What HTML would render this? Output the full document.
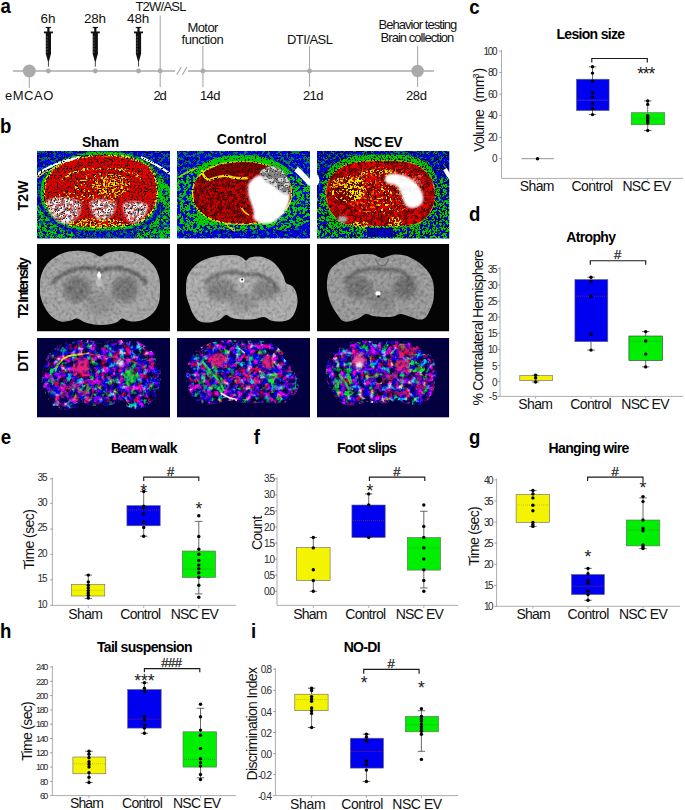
<!DOCTYPE html>
<html><head><meta charset="utf-8"><title>figure</title>
<style>
html,body{margin:0;padding:0;background:#fff;}
svg{display:block;font-family:"Liberation Sans", sans-serif;}
text{font-family:"Liberation Sans", sans-serif;}
</style></head><body>
<svg width="685" height="810" viewBox="0 0 685 810">
<rect width="685" height="810" fill="#fff"/>
<text transform="translate(0.46 12.8) scale(0.93 1)" font-size="20" font-weight="bold" fill="#000">a</text>
<line x1="13" y1="71" x2="434" y2="71" stroke="#aaaaaa" stroke-width="1.3" />
<line x1="29.3" y1="71" x2="29.3" y2="88" stroke="#aaaaaa" stroke-width="1.1" />
<line x1="160.2" y1="15.5" x2="160.2" y2="87" stroke="#aaaaaa" stroke-width="1.1" />
<line x1="202.9" y1="46" x2="202.9" y2="87" stroke="#aaaaaa" stroke-width="1.1" />
<line x1="309.5" y1="46" x2="309.5" y2="87" stroke="#aaaaaa" stroke-width="1.1" />
<line x1="417.6" y1="46" x2="417.6" y2="87" stroke="#aaaaaa" stroke-width="1.1" />
<circle cx="29.3" cy="71" r="6.5" fill="#aaaaaa"/>
<circle cx="417.6" cy="71" r="6.2" fill="#aaaaaa"/>
<circle cx="48.4" cy="71" r="2.4" fill="#aaaaaa"/>
<circle cx="95.3" cy="71" r="2.4" fill="#aaaaaa"/>
<circle cx="138.5" cy="71" r="2.4" fill="#aaaaaa"/>
<circle cx="160.2" cy="71" r="2.4" fill="#aaaaaa"/>
<circle cx="202.9" cy="71" r="2.4" fill="#aaaaaa"/>
<circle cx="309.5" cy="71" r="2.4" fill="#aaaaaa"/>
<rect x="175" y="69" width="13" height="4" fill="#fff"/>
<line x1="176.8" y1="74.6" x2="181.4" y2="67" stroke="#aaaaaa" stroke-width="1.1" />
<line x1="182.4" y1="74.6" x2="187" y2="67" stroke="#aaaaaa" stroke-width="1.1" />
<g transform="translate(48.4 0)"><rect x="-2.7" y="26.9" width="5.4" height="1.2" fill="#111"/><rect x="-1.1" y="27.2" width="2.2" height="5" fill="#111"/><rect x="-4.5" y="31.5" width="9" height="1.8" fill="#111"/><rect x="-2.6" y="33" width="5.2" height="21" fill="#111"/><path d="M-2.6 53.8L-0.45 61.5H0.45L2.6 53.8Z" fill="#111"/><rect x="-0.45" y="61" width="0.9" height="5.6" fill="#333"/><path d="M-2 37h1.4M-2 40h1.4M-2 43h1.4M-2 46h1.4M-2 49h1.4M-2 52h1.4" stroke="#bbb" stroke-width="0.5"/></g>
<g transform="translate(95.3 0)"><rect x="-2.7" y="26.9" width="5.4" height="1.2" fill="#111"/><rect x="-1.1" y="27.2" width="2.2" height="5" fill="#111"/><rect x="-4.5" y="31.5" width="9" height="1.8" fill="#111"/><rect x="-2.6" y="33" width="5.2" height="21" fill="#111"/><path d="M-2.6 53.8L-0.45 61.5H0.45L2.6 53.8Z" fill="#111"/><rect x="-0.45" y="61" width="0.9" height="5.6" fill="#333"/><path d="M-2 37h1.4M-2 40h1.4M-2 43h1.4M-2 46h1.4M-2 49h1.4M-2 52h1.4" stroke="#bbb" stroke-width="0.5"/></g>
<g transform="translate(138.5 0)"><rect x="-2.7" y="26.9" width="5.4" height="1.2" fill="#111"/><rect x="-1.1" y="27.2" width="2.2" height="5" fill="#111"/><rect x="-4.5" y="31.5" width="9" height="1.8" fill="#111"/><rect x="-2.6" y="33" width="5.2" height="21" fill="#111"/><path d="M-2.6 53.8L-0.45 61.5H0.45L2.6 53.8Z" fill="#111"/><rect x="-0.45" y="61" width="0.9" height="5.6" fill="#333"/><path d="M-2 37h1.4M-2 40h1.4M-2 43h1.4M-2 46h1.4M-2 49h1.4M-2 52h1.4" stroke="#bbb" stroke-width="0.5"/></g>
<text x="48" y="23.1" font-size="13.5" text-anchor="middle" fill="#111" textLength="14.8" lengthAdjust="spacing" >6h</text>
<text x="95" y="23.1" font-size="13.5" text-anchor="middle" fill="#111" textLength="22.2" lengthAdjust="spacing" >28h</text>
<text x="138.2" y="23.1" font-size="13.5" text-anchor="middle" fill="#111" textLength="22.2" lengthAdjust="spacing" >48h</text>
<text x="135.4" y="11.2" font-size="13" text-anchor="start" fill="#111" textLength="51" lengthAdjust="spacing" >T2W/ASL</text>
<text x="202.9" y="32.3" font-size="13" text-anchor="middle" fill="#111" textLength="31" lengthAdjust="spacing" >Motor</text>
<text x="202.6" y="44.2" font-size="13" text-anchor="middle" fill="#111" textLength="42.2" lengthAdjust="spacing" >function</text>
<text x="287" y="44.2" font-size="13" text-anchor="start" fill="#111" textLength="46" lengthAdjust="spacing" >DTI/ASL</text>
<text x="378.6" y="29.3" font-size="13" text-anchor="start" fill="#111" textLength="78.7" lengthAdjust="spacing" >Behavior testing</text>
<text x="380.6" y="42.2" font-size="13" text-anchor="start" fill="#111" textLength="73.7" lengthAdjust="spacing" >Brain collection</text>
<text x="5" y="99.7" font-size="13" text-anchor="start" fill="#111" textLength="48.3" lengthAdjust="spacing" >eMCAO</text>
<text x="153.5" y="99.7" font-size="13" text-anchor="start" fill="#111" textLength="13.2" lengthAdjust="spacing" >2d</text>
<text x="199.9" y="99.7" font-size="13" text-anchor="start" fill="#111" textLength="20.6" lengthAdjust="spacing" >14d</text>
<text x="303" y="99.7" font-size="13" text-anchor="start" fill="#111" textLength="20.4" lengthAdjust="spacing" >21d</text>
<text x="405.9" y="99.7" font-size="13" text-anchor="start" fill="#111" textLength="21" lengthAdjust="spacing" >28d</text>
<text transform="translate(-0.0 133.2) scale(0.93 1)" font-size="20" font-weight="bold" fill="#000">b</text>
<text x="81.9" y="146.9" font-size="14" text-anchor="start" fill="#000" font-weight="bold" textLength="37.4" lengthAdjust="spacing" >Sham</text>
<text x="216.8" y="144.4" font-size="14" text-anchor="start" fill="#000" font-weight="bold" textLength="49.8" lengthAdjust="spacing" >Control</text>
<text x="354.2" y="146.7" font-size="14" text-anchor="start" fill="#000" font-weight="bold" textLength="48.3" lengthAdjust="spacing" >NSC EV</text>
<text x="28.1" y="210.6" font-size="14" text-anchor="start" fill="#000" font-weight="bold" textLength="30" lengthAdjust="spacing" transform="rotate(-90 28.1 210.6)" >T2W</text>
<text x="28.1" y="318.3" font-size="14" text-anchor="start" fill="#000" font-weight="bold" textLength="61" lengthAdjust="spacing" transform="rotate(-90 28.1 318.3)" >T2 Intensity</text>
<text x="28.1" y="371.7" font-size="14" text-anchor="start" fill="#000" font-weight="bold" textLength="21.7" lengthAdjust="spacing" transform="rotate(-90 28.1 371.7)" >DTI</text>
<defs>
<filter id="w0k" x="0" y="0" width="1" height="1" color-interpolation-filters="sRGB"><feTurbulence type="fractalNoise" baseFrequency="0.7" numOctaves="1" seed="1"/><feColorMatrix type="matrix" values="0 0 0 0 0.0 0 0 0 0 0.0 0 0 0 0 0.0 22 0 0 0 -12.76"/><feComposite in2="SourceAlpha" operator="in"/></filter>
<filter id="w0k2" x="0" y="0" width="1" height="1" color-interpolation-filters="sRGB"><feTurbulence type="fractalNoise" baseFrequency="0.7" numOctaves="1" seed="2"/><feColorMatrix type="matrix" values="0 0 0 0 0.0 0 0 0 0 0.0 0 0 0 0 0.0 22 0 0 0 -13.2"/><feComposite in2="SourceAlpha" operator="in"/></filter>
<filter id="w0y" x="0" y="0" width="1" height="1" color-interpolation-filters="sRGB"><feTurbulence type="fractalNoise" baseFrequency="0.45" numOctaves="1" seed="3"/><feColorMatrix type="matrix" values="0 0 0 0 0.922 0 0 0 0 0.922 0 0 0 0 0.0 28 0 0 0 -16.38"/><feComposite in2="SourceAlpha" operator="in"/></filter>
<filter id="w0y2" x="0" y="0" width="1" height="1" color-interpolation-filters="sRGB"><feTurbulence type="fractalNoise" baseFrequency="0.45" numOctaves="1" seed="4"/><feColorMatrix type="matrix" values="0 0 0 0 0.922 0 0 0 0 0.922 0 0 0 0 0.0 28 0 0 0 -14.0"/><feComposite in2="SourceAlpha" operator="in"/></filter>
<filter id="w0g" x="0" y="0" width="1" height="1" color-interpolation-filters="sRGB"><feTurbulence type="fractalNoise" baseFrequency="0.3" numOctaves="2" seed="5"/><feColorMatrix type="matrix" values="0 0 0 0 0.0 0 0 0 0 0.804 0 0 0 0 0.0 28 0 0 0 -14.56"/><feComposite in2="SourceAlpha" operator="in"/></filter>
<filter id="w0g2" x="0" y="0" width="1" height="1" color-interpolation-filters="sRGB"><feTurbulence type="fractalNoise" baseFrequency="0.3" numOctaves="2" seed="6"/><feColorMatrix type="matrix" values="0 0 0 0 0.0 0 0 0 0 0.804 0 0 0 0 0.0 28 0 0 0 -12.04"/><feComposite in2="SourceAlpha" operator="in"/></filter>
<filter id="w0b" x="0" y="0" width="1" height="1" color-interpolation-filters="sRGB"><feTurbulence type="fractalNoise" baseFrequency="0.3" numOctaves="2" seed="7"/><feColorMatrix type="matrix" values="0 0 0 0 0.0 0 0 0 0 0.0 0 0 0 0 0.922 28 0 0 0 -14.0"/><feComposite in2="SourceAlpha" operator="in"/></filter>
<filter id="w0w" x="0" y="0" width="1" height="1" color-interpolation-filters="sRGB"><feTurbulence type="fractalNoise" baseFrequency="0.22" numOctaves="2" seed="8"/><feColorMatrix type="matrix" values="0 0 0 0 0.882 0 0 0 0 0.882 0 0 0 0 0.882 10 0 0 0 -5.0"/><feComposite in2="SourceAlpha" operator="in"/></filter>
<filter id="w0gr" x="0" y="0" width="1" height="1" color-interpolation-filters="sRGB"><feTurbulence type="fractalNoise" baseFrequency="0.28" numOctaves="2" seed="8"/><feColorMatrix type="matrix" values="0 0 0 0 0.471 0 0 0 0 0.471 0 0 0 0 0.471 9 0 0 0 -4.5"/><feComposite in2="SourceAlpha" operator="in"/></filter>
<filter id="w0r" x="0" y="0" width="1" height="1" color-interpolation-filters="sRGB"><feTurbulence type="fractalNoise" baseFrequency="0.3" numOctaves="2" seed="9"/><feColorMatrix type="matrix" values="0 0 0 0 0.882 0 0 0 0 0.0 0 0 0 0 0.0 22 0 0 0 -11.44"/><feComposite in2="SourceAlpha" operator="in"/></filter>
<filter id="w0dr" x="0" y="0" width="1" height="1" color-interpolation-filters="sRGB"><feTurbulence type="fractalNoise" baseFrequency="0.22" numOctaves="2" seed="9"/><feColorMatrix type="matrix" values="0 0 0 0 0.471 0 0 0 0 0.0 0 0 0 0 0.0 20 0 0 0 -9.6"/><feComposite in2="SourceAlpha" operator="in"/></filter>
<clipPath id="wc0"><rect x="0" y="0" width="133" height="87.5"/></clipPath>
<filter id="w1k" x="0" y="0" width="1" height="1" color-interpolation-filters="sRGB"><feTurbulence type="fractalNoise" baseFrequency="0.7" numOctaves="1" seed="11"/><feColorMatrix type="matrix" values="0 0 0 0 0.0 0 0 0 0 0.0 0 0 0 0 0.0 22 0 0 0 -12.76"/><feComposite in2="SourceAlpha" operator="in"/></filter>
<filter id="w1k2" x="0" y="0" width="1" height="1" color-interpolation-filters="sRGB"><feTurbulence type="fractalNoise" baseFrequency="0.7" numOctaves="1" seed="12"/><feColorMatrix type="matrix" values="0 0 0 0 0.0 0 0 0 0 0.0 0 0 0 0 0.0 22 0 0 0 -13.2"/><feComposite in2="SourceAlpha" operator="in"/></filter>
<filter id="w1y" x="0" y="0" width="1" height="1" color-interpolation-filters="sRGB"><feTurbulence type="fractalNoise" baseFrequency="0.45" numOctaves="1" seed="13"/><feColorMatrix type="matrix" values="0 0 0 0 0.922 0 0 0 0 0.922 0 0 0 0 0.0 28 0 0 0 -16.38"/><feComposite in2="SourceAlpha" operator="in"/></filter>
<filter id="w1y2" x="0" y="0" width="1" height="1" color-interpolation-filters="sRGB"><feTurbulence type="fractalNoise" baseFrequency="0.45" numOctaves="1" seed="14"/><feColorMatrix type="matrix" values="0 0 0 0 0.922 0 0 0 0 0.922 0 0 0 0 0.0 28 0 0 0 -14.0"/><feComposite in2="SourceAlpha" operator="in"/></filter>
<filter id="w1g" x="0" y="0" width="1" height="1" color-interpolation-filters="sRGB"><feTurbulence type="fractalNoise" baseFrequency="0.3" numOctaves="2" seed="15"/><feColorMatrix type="matrix" values="0 0 0 0 0.0 0 0 0 0 0.804 0 0 0 0 0.0 28 0 0 0 -14.56"/><feComposite in2="SourceAlpha" operator="in"/></filter>
<filter id="w1g2" x="0" y="0" width="1" height="1" color-interpolation-filters="sRGB"><feTurbulence type="fractalNoise" baseFrequency="0.3" numOctaves="2" seed="16"/><feColorMatrix type="matrix" values="0 0 0 0 0.0 0 0 0 0 0.804 0 0 0 0 0.0 28 0 0 0 -12.04"/><feComposite in2="SourceAlpha" operator="in"/></filter>
<filter id="w1b" x="0" y="0" width="1" height="1" color-interpolation-filters="sRGB"><feTurbulence type="fractalNoise" baseFrequency="0.3" numOctaves="2" seed="17"/><feColorMatrix type="matrix" values="0 0 0 0 0.0 0 0 0 0 0.0 0 0 0 0 0.922 28 0 0 0 -14.0"/><feComposite in2="SourceAlpha" operator="in"/></filter>
<filter id="w1w" x="0" y="0" width="1" height="1" color-interpolation-filters="sRGB"><feTurbulence type="fractalNoise" baseFrequency="0.22" numOctaves="2" seed="18"/><feColorMatrix type="matrix" values="0 0 0 0 0.882 0 0 0 0 0.882 0 0 0 0 0.882 10 0 0 0 -5.0"/><feComposite in2="SourceAlpha" operator="in"/></filter>
<filter id="w1gr" x="0" y="0" width="1" height="1" color-interpolation-filters="sRGB"><feTurbulence type="fractalNoise" baseFrequency="0.28" numOctaves="2" seed="18"/><feColorMatrix type="matrix" values="0 0 0 0 0.471 0 0 0 0 0.471 0 0 0 0 0.471 9 0 0 0 -4.5"/><feComposite in2="SourceAlpha" operator="in"/></filter>
<filter id="w1r" x="0" y="0" width="1" height="1" color-interpolation-filters="sRGB"><feTurbulence type="fractalNoise" baseFrequency="0.3" numOctaves="2" seed="19"/><feColorMatrix type="matrix" values="0 0 0 0 0.882 0 0 0 0 0.0 0 0 0 0 0.0 22 0 0 0 -11.44"/><feComposite in2="SourceAlpha" operator="in"/></filter>
<filter id="w1dr" x="0" y="0" width="1" height="1" color-interpolation-filters="sRGB"><feTurbulence type="fractalNoise" baseFrequency="0.22" numOctaves="2" seed="19"/><feColorMatrix type="matrix" values="0 0 0 0 0.471 0 0 0 0 0.0 0 0 0 0 0.0 20 0 0 0 -9.6"/><feComposite in2="SourceAlpha" operator="in"/></filter>
<clipPath id="wc1"><rect x="0" y="0" width="133" height="87.5"/></clipPath>
<filter id="w2k" x="0" y="0" width="1" height="1" color-interpolation-filters="sRGB"><feTurbulence type="fractalNoise" baseFrequency="0.7" numOctaves="1" seed="21"/><feColorMatrix type="matrix" values="0 0 0 0 0.0 0 0 0 0 0.0 0 0 0 0 0.0 22 0 0 0 -12.76"/><feComposite in2="SourceAlpha" operator="in"/></filter>
<filter id="w2k2" x="0" y="0" width="1" height="1" color-interpolation-filters="sRGB"><feTurbulence type="fractalNoise" baseFrequency="0.7" numOctaves="1" seed="22"/><feColorMatrix type="matrix" values="0 0 0 0 0.0 0 0 0 0 0.0 0 0 0 0 0.0 22 0 0 0 -13.2"/><feComposite in2="SourceAlpha" operator="in"/></filter>
<filter id="w2y" x="0" y="0" width="1" height="1" color-interpolation-filters="sRGB"><feTurbulence type="fractalNoise" baseFrequency="0.45" numOctaves="1" seed="23"/><feColorMatrix type="matrix" values="0 0 0 0 0.922 0 0 0 0 0.922 0 0 0 0 0.0 28 0 0 0 -16.38"/><feComposite in2="SourceAlpha" operator="in"/></filter>
<filter id="w2y2" x="0" y="0" width="1" height="1" color-interpolation-filters="sRGB"><feTurbulence type="fractalNoise" baseFrequency="0.45" numOctaves="1" seed="24"/><feColorMatrix type="matrix" values="0 0 0 0 0.922 0 0 0 0 0.922 0 0 0 0 0.0 28 0 0 0 -14.0"/><feComposite in2="SourceAlpha" operator="in"/></filter>
<filter id="w2g" x="0" y="0" width="1" height="1" color-interpolation-filters="sRGB"><feTurbulence type="fractalNoise" baseFrequency="0.3" numOctaves="2" seed="25"/><feColorMatrix type="matrix" values="0 0 0 0 0.0 0 0 0 0 0.804 0 0 0 0 0.0 28 0 0 0 -14.56"/><feComposite in2="SourceAlpha" operator="in"/></filter>
<filter id="w2g2" x="0" y="0" width="1" height="1" color-interpolation-filters="sRGB"><feTurbulence type="fractalNoise" baseFrequency="0.3" numOctaves="2" seed="26"/><feColorMatrix type="matrix" values="0 0 0 0 0.0 0 0 0 0 0.804 0 0 0 0 0.0 28 0 0 0 -12.04"/><feComposite in2="SourceAlpha" operator="in"/></filter>
<filter id="w2b" x="0" y="0" width="1" height="1" color-interpolation-filters="sRGB"><feTurbulence type="fractalNoise" baseFrequency="0.3" numOctaves="2" seed="27"/><feColorMatrix type="matrix" values="0 0 0 0 0.0 0 0 0 0 0.0 0 0 0 0 0.922 28 0 0 0 -14.0"/><feComposite in2="SourceAlpha" operator="in"/></filter>
<filter id="w2w" x="0" y="0" width="1" height="1" color-interpolation-filters="sRGB"><feTurbulence type="fractalNoise" baseFrequency="0.22" numOctaves="2" seed="28"/><feColorMatrix type="matrix" values="0 0 0 0 0.882 0 0 0 0 0.882 0 0 0 0 0.882 10 0 0 0 -5.0"/><feComposite in2="SourceAlpha" operator="in"/></filter>
<filter id="w2gr" x="0" y="0" width="1" height="1" color-interpolation-filters="sRGB"><feTurbulence type="fractalNoise" baseFrequency="0.28" numOctaves="2" seed="28"/><feColorMatrix type="matrix" values="0 0 0 0 0.471 0 0 0 0 0.471 0 0 0 0 0.471 9 0 0 0 -4.5"/><feComposite in2="SourceAlpha" operator="in"/></filter>
<filter id="w2r" x="0" y="0" width="1" height="1" color-interpolation-filters="sRGB"><feTurbulence type="fractalNoise" baseFrequency="0.3" numOctaves="2" seed="29"/><feColorMatrix type="matrix" values="0 0 0 0 0.882 0 0 0 0 0.0 0 0 0 0 0.0 22 0 0 0 -11.44"/><feComposite in2="SourceAlpha" operator="in"/></filter>
<filter id="w2dr" x="0" y="0" width="1" height="1" color-interpolation-filters="sRGB"><feTurbulence type="fractalNoise" baseFrequency="0.22" numOctaves="2" seed="29"/><feColorMatrix type="matrix" values="0 0 0 0 0.471 0 0 0 0 0.0 0 0 0 0 0.0 20 0 0 0 -9.6"/><feComposite in2="SourceAlpha" operator="in"/></filter>
<clipPath id="wc2"><rect x="0" y="0" width="132.3" height="87.5"/></clipPath>
<filter id="wsoft" x="0" y="0" width="1" height="1"><feGaussianBlur stdDeviation="0.38"/></filter>
<filter id="wblur" x="-0.2" y="-0.2" width="1.4" height="1.4"><feGaussianBlur stdDeviation="0.8"/></filter>
</defs>
<g transform="translate(37 151)" clip-path="url(#wc0)"><g filter="url(#wsoft)">
<rect x="0" y="0" width="133" height="87.5" fill="#0000eb"/>
<path d="M7 42C7 30 12 19 26 12C40 6 54 4 66 4C80 4 96 6 108 13C119 20 121 32 120 44C119 56 113 65 103 71C92 75 78 76 66 76C52 76 38 76 28 72C15 66 7 54 7 42Z" fill="none" stroke="#00cd00" stroke-width="7"/>
<path d="M0 52C6 62 12 72 28 79C50 85 84 85 104 78C118 72 126 60 133 50V88H0Z" fill="#00cd00"/>
<path d="M0 52C6 62 12 72 28 79C50 85 84 85 104 78C118 72 126 60 133 50V88H0Z" fill="#000" filter="url(#w0b)"/>
<path d="M36 82H100V88H36Z" fill="#0000eb" opacity="0.8"/>
<path d="M122 22C128 30 133 36 133 36V62L123 52Z" fill="#000" filter="url(#w0g2)"/>
<rect x="0" y="0" width="133" height="87.5" fill="#000" filter="url(#w0g)" opacity="0.5"/>
<path d="M7 42C7 30 12 19 26 12C40 6 54 4 66 4C80 4 96 6 108 13C119 20 121 32 120 44C119 56 113 65 103 71C92 75 78 76 66 76C52 76 38 76 28 72C15 66 7 54 7 42Z" fill="none" stroke="#000" stroke-width="8" filter="url(#w0b)" opacity="0.55"/>
<path d="M7 42C7 30 12 19 26 12C40 6 54 4 66 4C80 4 96 6 108 13C119 20 121 32 120 44C119 56 113 65 103 71C92 75 78 76 66 76C52 76 38 76 28 72C15 66 7 54 7 42Z" fill="#e10000"/>
<path d="M7 42C7 30 12 19 26 12C40 6 54 4 66 4C80 4 96 6 108 13C119 20 121 32 120 44C119 56 113 65 103 71C92 75 78 76 66 76C52 76 38 76 28 72C15 66 7 54 7 42Z" fill="none" stroke="#000" stroke-width="2.5" filter="url(#w0y2)"/>
<path d="M24 31C30 22 44 17 66 17C86 17 98 22 104 28" fill="none" stroke="#000" stroke-width="3" filter="url(#w0y2)"/>
<ellipse cx="76" cy="34" rx="17" ry="11" fill="#000" filter="url(#w0y2)" opacity="0.9"/>
<ellipse cx="62" cy="38" rx="26" ry="16" fill="#000" filter="url(#w0y)"/>
<ellipse cx="60" cy="72" rx="28" ry="5" fill="#000" filter="url(#w0y2)"/>
<ellipse cx="30" cy="48" rx="14" ry="8" fill="#000" filter="url(#w0y)"/>
<path d="M7 42C7 30 12 19 26 12C40 6 54 4 66 4C80 4 96 6 108 13C119 20 121 32 120 44C119 56 113 65 103 71C92 75 78 76 66 76C52 76 38 76 28 72C15 66 7 54 7 42Z" fill="#000" filter="url(#w0k2)" opacity="0.5"/>
<path d="M0 24C6 18 14 15 22 12C30 9 36 8 42 6" fill="none" stroke="#fff" stroke-width="2.2"/>
<path d="M104 6C112 10 120 14 126 18C130 20 133 23 133 23" fill="none" stroke="#fff" stroke-width="2"/>
<path d="M0 27C6 21 14 18 22 15" fill="none" stroke="#e8e800" stroke-width="1.5"/>
<rect x="0" y="0" width="133" height="87.5" fill="#000" filter="url(#w0k)"/>
<g filter="url(#wblur)">
<path d="M10 50C18 45 34 46 44 51C45 60 41 70 31 73C19 72 11 62 10 50Z" fill="#efefef"/>
<path d="M53 51C60 47 72 48 79 52C79 61 73 69 65 69C58 69 53 60 53 51Z" fill="#efefef"/>
<path d="M86 53C94 49 104 50 111 54C111 62 105 71 96 72C90 71 86 62 86 53Z" fill="#efefef"/>
</g>
<path d="M10 50C18 45 34 46 44 51C45 60 41 70 31 73C19 72 11 62 10 50Z" fill="#000" filter="url(#w0gr)" opacity="0.9"/>
<path d="M10 50C18 45 34 46 44 51C45 60 41 70 31 73C19 72 11 62 10 50Z" fill="#000" filter="url(#w0r)" opacity="0.55"/>
<path d="M10 50C18 45 34 46 44 51C45 60 41 70 31 73C19 72 11 62 10 50Z" fill="#000" filter="url(#w0k2)" opacity="0.7"/>
<path d="M53 51C60 47 72 48 79 52C79 61 73 69 65 69C58 69 53 60 53 51Z" fill="#000" filter="url(#w0gr)" opacity="0.9"/>
<path d="M53 51C60 47 72 48 79 52C79 61 73 69 65 69C58 69 53 60 53 51Z" fill="#000" filter="url(#w0r)" opacity="0.55"/>
<path d="M53 51C60 47 72 48 79 52C79 61 73 69 65 69C58 69 53 60 53 51Z" fill="#000" filter="url(#w0k2)" opacity="0.7"/>
<path d="M86 53C94 49 104 50 111 54C111 62 105 71 96 72C90 71 86 62 86 53Z" fill="#000" filter="url(#w0gr)" opacity="0.9"/>
<path d="M86 53C94 49 104 50 111 54C111 62 105 71 96 72C90 71 86 62 86 53Z" fill="#000" filter="url(#w0r)" opacity="0.55"/>
<path d="M86 53C94 49 104 50 111 54C111 62 105 71 96 72C90 71 86 62 86 53Z" fill="#000" filter="url(#w0k2)" opacity="0.7"/>
</g></g>
<g transform="translate(177 151)" clip-path="url(#wc1)"><g filter="url(#wsoft)">
<rect x="0" y="0" width="133" height="87.5" fill="#0000eb"/>
<path d="M15.5 42C15.5 26 30 11 65 11C100 11 114.5 26 114.5 42C114.5 60 100 73 65 73C30 73 15.5 60 15.5 42Z" fill="none" stroke="#00cd00" stroke-width="14"/>
<path d="M0 26C6 22 12 18 18 16L14 40C14 60 24 72 40 78L30 82L0 80Z" fill="#00cd00"/>
<path d="M112 20L133 34V70L110 80L96 78C110 70 120 56 120 40Z" fill="#00cd00"/>
<rect x="0" y="0" width="133" height="87.5" fill="#000" filter="url(#w1g)" opacity="0.6"/>
<path d="M0 16H20V88H0ZM110 20H133V88H96Z M20 74H110V88H20Z" fill="#000" filter="url(#w1b)"/>
<path d="M15.5 42C15.5 26 30 11 65 11C100 11 114.5 26 114.5 42C114.5 60 100 73 65 73C30 73 15.5 60 15.5 42Z" fill="#c40000" stroke="#ebeb00" stroke-width="1.3"/>
<path d="M15.5 42C15.5 26 30 11 65 11C100 11 114.5 26 114.5 42C114.5 60 100 73 65 73C30 73 15.5 60 15.5 42Z" fill="#000" filter="url(#w1dr)"/>
<path d="M26 24C34 14 52 11 66 11C78 11 86 13 92 16L84 24C70 20 40 22 30 30Z" fill="#7a0000" opacity="0.85"/>
<path d="M25 20C26 24 28 28 32 29C38 27 44 24 50 25C56 27 62 28 70 27" fill="none" stroke="#e6e600" stroke-width="2.4" stroke-linecap="round"/>
<path d="M64 56C66 60 68 62 72 64" fill="none" stroke="#e6e600" stroke-width="1.6"/>
<path d="M48 72C52 76 56 78 58 80" fill="none" stroke="#d8d800" stroke-width="2"/>
<rect x="0" y="0" width="133" height="87.5" fill="#000" filter="url(#w1k2)"/>
<g filter="url(#wblur)">
<path d="M71 34C75 27 82 22 90 24C100 26 108 34 113 44C113 56 105 67 95 72C87 74 78 72 76 66C79 58 71 50 71 40Z" fill="#ffffff"/>
<path d="M83 21C87 16 95 14 102 17C109 21 113 30 113.5 40C113 43 111 44 108 43C103 41 99 36 94 33C89 31 85 27 83 21Z" fill="#808080"/>
</g>
<path d="M83 21C87 16 95 14 102 17C109 21 113 30 113.5 40C113 43 111 44 108 43C103 41 99 36 94 33C89 31 85 27 83 21Z" fill="#000" filter="url(#w1w)" opacity="0.85"/>
<path d="M83 21C87 16 95 14 102 17C109 21 113 30 113.5 40C113 43 111 44 108 43C103 41 99 36 94 33C89 31 85 27 83 21Z" fill="#000" filter="url(#w1k)" opacity="0.5"/>
<path d="M119 18C124 22 129 28 134 33" fill="none" stroke="#fff" stroke-width="5.5"/>
<path d="M2 26C8 22 14 19 20 17" fill="none" stroke="#d8d800" stroke-width="1.5" opacity="0.8"/>
</g></g>
<g transform="translate(317 151)" clip-path="url(#wc2)"><g filter="url(#wsoft)">
<rect x="0" y="0" width="133" height="87.5" fill="#0000eb"/>
<path d="M9 42C9 30 16 18 32 13C46 9 56 10 64 10C76 10 90 9 100 14C112 20 118 32 118 44C118 56 112 66 102 72C90 76 76 75 64 75C50 75 36 76 26 72C14 66 9 54 9 42Z" fill="none" stroke="#00cd00" stroke-width="13"/>
<path d="M0 46L10 50C12 62 20 72 34 78L133 78V88H0Z" fill="#00cd00"/>
<path d="M118 30L133 24V88H100V76C112 70 120 56 118 30Z" fill="#00cd00"/>
<rect x="0" y="0" width="133" height="87.5" fill="#000" filter="url(#w2g)" opacity="0.6"/>
<path d="M0 20H12V88H0ZM116 16H133V88H100Z M12 76H116V88H12Z" fill="#000" filter="url(#w2b)"/>
<path d="M50 77H76V86H50Z" fill="#0000e0"/>
<path d="M9 42C9 30 16 18 32 13C46 9 56 10 64 10C76 10 90 9 100 14C112 20 118 32 118 44C118 56 112 66 102 72C90 76 76 75 64 75C50 75 36 76 26 72C14 66 9 54 9 42Z" fill="#e10000" stroke="#d8d800" stroke-width="0.8"/>
<path d="M9 42C9 30 16 18 32 13C46 9 56 10 64 10C76 10 90 9 100 14C112 20 118 32 118 44C118 56 112 66 102 72C90 76 76 75 64 75C50 75 36 76 26 72C14 66 9 54 9 42Z" fill="#000" filter="url(#w2dr)" opacity="0.8"/>
<ellipse cx="29" cy="42" rx="11" ry="9" fill="#7a0000" opacity="0.8"/>
<ellipse cx="31" cy="38" rx="18" ry="13" fill="#000" filter="url(#w2y)"/>
<ellipse cx="39" cy="37" rx="10" ry="12" fill="#000" filter="url(#w2y2)"/>
<ellipse cx="22" cy="32" rx="8" ry="5" fill="#000" filter="url(#w2y2)" opacity="0.8"/>
<path d="M44 24C52 19 64 19 78 22" fill="none" stroke="#000" stroke-width="4" filter="url(#w2y2)"/>
<ellipse cx="43" cy="73.5" rx="9" ry="3.5" fill="#000" filter="url(#w2y2)"/>
<ellipse cx="78" cy="71" rx="8" ry="5" fill="#000" filter="url(#w2y2)"/>
<ellipse cx="68" cy="48" rx="8" ry="14" fill="#000" filter="url(#w2y)"/>
<ellipse cx="64" cy="40" rx="40" ry="24" fill="#000" filter="url(#w2y)" opacity="0.5"/>
<rect x="0" y="0" width="133" height="87.5" fill="#000" filter="url(#w2k2)"/>
<path d="M0 0H133V88H0ZM9 42C9 30 16 18 32 13C46 9 56 10 64 10C76 10 90 9 100 14C112 20 118 32 118 44C118 56 112 66 102 72C90 76 76 75 64 75C50 75 36 76 26 72C14 66 9 54 9 42Z" fill-rule="evenodd" fill="#000" filter="url(#w2k)" opacity="0.8"/>
<g filter="url(#wblur)">
<path d="M68 28C68 23 74 22 80 23C92 24 102 32 106 44C108 52 102 58 94 57C88 56 86 50 84 42C82 36 78 33 74 33C70 33 68 31 68 28Z" fill="#ffffff"/>
<path d="M21 66C24 64 29 65 31 68C30 71 26 73 22 71Z" fill="#aaaaaa"/>
</g>
<path d="M82 24H106V44H82Z" fill="#000" filter="url(#w2w)" opacity="0.35"/>
<path d="M0 25C2 27 2 31 0 33Z" fill="#fff" stroke="#fff" stroke-width="2"/>
<path d="M128 18C130 22 133 26 134 27" fill="none" stroke="#fff" stroke-width="4"/>
</g></g>
<defs>
<filter id="tblur" x="-0.1" y="-0.1" width="1.2" height="1.2"><feGaussianBlur stdDeviation="0.75"/></filter>
<filter id="tblur2" x="-0.3" y="-0.3" width="1.6" height="1.6"><feGaussianBlur stdDeviation="2.6"/></filter>
<filter id="tblurA" x="-0.2" y="-0.4" width="1.4" height="1.8"><feGaussianBlur stdDeviation="1.5"/></filter>
<filter id="tblur3" x="-0.3" y="-0.3" width="1.6" height="1.6"><feGaussianBlur stdDeviation="0.6"/></filter>
<filter id="tn0" x="0" y="0" width="1" height="1" color-interpolation-filters="sRGB"><feTurbulence type="fractalNoise" baseFrequency="0.28" numOctaves="2" seed="40"/><feColorMatrix type="matrix" values="0 0 0 0 1  0 0 0 0 1  0 0 0 0 1  3.2 0 0 0 -1.45"/><feGaussianBlur stdDeviation="0.5"/><feComposite in2="SourceAlpha" operator="in"/></filter>
<filter id="tm0" x="0" y="0" width="1" height="1" color-interpolation-filters="sRGB"><feTurbulence type="fractalNoise" baseFrequency="0.28" numOctaves="2" seed="50"/><feColorMatrix type="matrix" values="0 0 0 0 0  0 0 0 0 0  0 0 0 0 0  3.2 0 0 0 -1.45"/><feGaussianBlur stdDeviation="0.5"/><feComposite in2="SourceAlpha" operator="in"/></filter>
<clipPath id="tc0"><rect x="0" y="0" width="133" height="87.5"/></clipPath>
<filter id="tn1" x="0" y="0" width="1" height="1" color-interpolation-filters="sRGB"><feTurbulence type="fractalNoise" baseFrequency="0.28" numOctaves="2" seed="41"/><feColorMatrix type="matrix" values="0 0 0 0 1  0 0 0 0 1  0 0 0 0 1  3.2 0 0 0 -1.45"/><feGaussianBlur stdDeviation="0.5"/><feComposite in2="SourceAlpha" operator="in"/></filter>
<filter id="tm1" x="0" y="0" width="1" height="1" color-interpolation-filters="sRGB"><feTurbulence type="fractalNoise" baseFrequency="0.28" numOctaves="2" seed="51"/><feColorMatrix type="matrix" values="0 0 0 0 0  0 0 0 0 0  0 0 0 0 0  3.2 0 0 0 -1.45"/><feGaussianBlur stdDeviation="0.5"/><feComposite in2="SourceAlpha" operator="in"/></filter>
<clipPath id="tc1"><rect x="0" y="0" width="133" height="87.5"/></clipPath>
<filter id="tn2" x="0" y="0" width="1" height="1" color-interpolation-filters="sRGB"><feTurbulence type="fractalNoise" baseFrequency="0.28" numOctaves="2" seed="42"/><feColorMatrix type="matrix" values="0 0 0 0 1  0 0 0 0 1  0 0 0 0 1  3.2 0 0 0 -1.45"/><feGaussianBlur stdDeviation="0.5"/><feComposite in2="SourceAlpha" operator="in"/></filter>
<filter id="tm2" x="0" y="0" width="1" height="1" color-interpolation-filters="sRGB"><feTurbulence type="fractalNoise" baseFrequency="0.28" numOctaves="2" seed="52"/><feColorMatrix type="matrix" values="0 0 0 0 0  0 0 0 0 0  0 0 0 0 0  3.2 0 0 0 -1.45"/><feGaussianBlur stdDeviation="0.5"/><feComposite in2="SourceAlpha" operator="in"/></filter>
<clipPath id="tc2"><rect x="0" y="0" width="132.3" height="87.5"/></clipPath>
</defs>
<g transform="translate(37 244)" clip-path="url(#tc0)">
<rect x="0" y="0" width="133" height="87.5" fill="#040404"/>
<path d="M3 45C3.1 41.7 2.8 36.2 4 32C5.2 27.8 7.3 23.3 10 20C12.7 16.7 16.3 14.1 20 12C23.7 9.9 27.8 8.3 32 7.5C36.2 6.7 41.0 6.8 45 7C49.0 7.2 53.0 8.1 56 9C59.0 9.9 60.7 12.5 63 12.5C65.3 12.5 66.8 9.9 70 9C73.2 8.1 77.8 7.2 82 7C86.2 6.8 90.8 7.0 95 8C99.2 9.0 103.3 10.7 107 13C110.7 15.3 114.5 18.7 117 22C119.5 25.3 121.0 29.2 122 33C123.0 36.8 123.0 40.8 123 45C123.0 49.2 123.0 54.2 122 58C121.0 61.8 119.3 65.2 117 68C114.7 70.8 111.2 73.4 108 75C104.8 76.6 101.0 77.2 98 77.5C95.0 77.8 92.2 77.0 90 76.5C87.8 76.0 87.0 74.1 85 74.5C83.0 74.9 81.5 77.9 78 79C74.5 80.1 68.7 81.0 64 81C59.3 81.0 54.0 80.1 50 79C46.0 77.9 42.7 74.9 40 74.5C37.3 74.1 36.7 76.0 34 76.5C31.3 77.0 27.3 78.2 24 77.5C20.7 76.8 16.8 74.6 14 72C11.2 69.4 8.8 65.3 7 62C5.2 58.7 4.2 54.8 3.5 52C2.8 49.2 2.9 48.3 3 45Z" fill="#a4a4a4" filter="url(#tblur)"/>
<g filter="url(#tblur2)">
<ellipse cx="40" cy="45" rx="14" ry="13" fill="#747474"/>
<ellipse cx="88" cy="45" rx="13" ry="13" fill="#747474"/>
<ellipse cx="63" cy="60" rx="14" ry="12" fill="#909090"/>
</g>
<path d="M15 40C22 30 36 24 50 24C58 24 62 26 63 27C66 25 72 24 80 24C92 25 104 31 110 40" fill="none" stroke="#5c5c5c" stroke-width="4" filter="url(#tblurA)"/>
<path d="M3 45C3.1 41.7 2.8 36.2 4 32C5.2 27.8 7.3 23.3 10 20C12.7 16.7 16.3 14.1 20 12C23.7 9.9 27.8 8.3 32 7.5C36.2 6.7 41.0 6.8 45 7C49.0 7.2 53.0 8.1 56 9C59.0 9.9 60.7 12.5 63 12.5C65.3 12.5 66.8 9.9 70 9C73.2 8.1 77.8 7.2 82 7C86.2 6.8 90.8 7.0 95 8C99.2 9.0 103.3 10.7 107 13C110.7 15.3 114.5 18.7 117 22C119.5 25.3 121.0 29.2 122 33C123.0 36.8 123.0 40.8 123 45C123.0 49.2 123.0 54.2 122 58C121.0 61.8 119.3 65.2 117 68C114.7 70.8 111.2 73.4 108 75C104.8 76.6 101.0 77.2 98 77.5C95.0 77.8 92.2 77.0 90 76.5C87.8 76.0 87.0 74.1 85 74.5C83.0 74.9 81.5 77.9 78 79C74.5 80.1 68.7 81.0 64 81C59.3 81.0 54.0 80.1 50 79C46.0 77.9 42.7 74.9 40 74.5C37.3 74.1 36.7 76.0 34 76.5C31.3 77.0 27.3 78.2 24 77.5C20.7 76.8 16.8 74.6 14 72C11.2 69.4 8.8 65.3 7 62C5.2 58.7 4.2 54.8 3.5 52C2.8 49.2 2.9 48.3 3 45Z" fill="#000" filter="url(#tn0)" opacity="0.13"/>
<path d="M3 45C3.1 41.7 2.8 36.2 4 32C5.2 27.8 7.3 23.3 10 20C12.7 16.7 16.3 14.1 20 12C23.7 9.9 27.8 8.3 32 7.5C36.2 6.7 41.0 6.8 45 7C49.0 7.2 53.0 8.1 56 9C59.0 9.9 60.7 12.5 63 12.5C65.3 12.5 66.8 9.9 70 9C73.2 8.1 77.8 7.2 82 7C86.2 6.8 90.8 7.0 95 8C99.2 9.0 103.3 10.7 107 13C110.7 15.3 114.5 18.7 117 22C119.5 25.3 121.0 29.2 122 33C123.0 36.8 123.0 40.8 123 45C123.0 49.2 123.0 54.2 122 58C121.0 61.8 119.3 65.2 117 68C114.7 70.8 111.2 73.4 108 75C104.8 76.6 101.0 77.2 98 77.5C95.0 77.8 92.2 77.0 90 76.5C87.8 76.0 87.0 74.1 85 74.5C83.0 74.9 81.5 77.9 78 79C74.5 80.1 68.7 81.0 64 81C59.3 81.0 54.0 80.1 50 79C46.0 77.9 42.7 74.9 40 74.5C37.3 74.1 36.7 76.0 34 76.5C31.3 77.0 27.3 78.2 24 77.5C20.7 76.8 16.8 74.6 14 72C11.2 69.4 8.8 65.3 7 62C5.2 58.7 4.2 54.8 3.5 52C2.8 49.2 2.9 48.3 3 45Z" fill="#000" filter="url(#tm0)" opacity="0.16"/>
<path d="M62 27L64.5 31L62 37L59.8 31Z" fill="#fff" filter="url(#tblur3)"/>
<ellipse cx="62" cy="38" rx="3" ry="5" fill="#c8c8c8" filter="url(#tblur)" opacity="0.6"/>
</g>
<g transform="translate(177 244)" clip-path="url(#tc1)">
<rect x="0" y="0" width="133" height="87.5" fill="#040404"/>
<path d="M9 46C9.1 43.0 9.0 37.5 10 34C11.0 30.5 13.0 27.6 15 25C17.0 22.4 19.2 20.3 22 18.5C24.8 16.7 28.3 15.2 32 14C35.7 12.8 39.7 12.0 44 11.5C48.3 11.0 54.5 10.7 58 11C61.5 11.3 63.2 12.6 65 13.5C66.8 14.4 67.7 16.5 69 16.5C70.3 16.5 70.8 14.2 73 13.5C75.2 12.8 78.8 12.2 82 12.5C85.2 12.8 89.0 13.9 92 15.5C95.0 17.1 97.7 19.4 100 22C102.3 24.6 104.5 28.2 106 31C107.5 33.8 107.5 37.2 109 39C110.5 40.8 113.3 40.5 115 42C116.7 43.5 118.1 45.3 119 48C119.9 50.7 120.7 54.7 120.5 58C120.3 61.3 119.2 65.2 118 68C116.8 70.8 115.3 73.4 113 75C110.7 76.6 107.2 77.2 104 77.5C100.8 77.8 96.8 77.2 94 76.5C91.2 75.8 89.7 73.2 87 73C84.3 72.8 81.5 74.6 78 75C74.5 75.4 69.8 75.7 66 75.5C62.2 75.3 57.8 74.8 55 74C52.2 73.2 51.2 70.7 49 71C46.8 71.3 44.8 74.8 42 76C39.2 77.2 35.3 78.3 32 78.5C28.7 78.7 24.7 78.4 22 77C19.3 75.6 17.7 72.8 16 70C14.3 67.2 13.1 63.0 12 60C10.9 57.0 10.0 54.3 9.5 52C9.0 49.7 8.9 49.0 9 46Z" fill="#acacac" filter="url(#tblur)"/>
<g filter="url(#tblur2)">
<ellipse cx="44" cy="46" rx="15" ry="11" fill="#808080"/>
<ellipse cx="88" cy="46" rx="13" ry="10" fill="#808080"/>
<ellipse cx="66" cy="58" rx="14" ry="10" fill="#909090"/>
</g>
<path d="M28 40C34 32 44 28 56 28C62 28 66 30 68 31C74 29 84 30 92 36C98 40 101 44 102 48" fill="none" stroke="#666" stroke-width="3.6" filter="url(#tblurA)"/>
<path d="M9 46C9.1 43.0 9.0 37.5 10 34C11.0 30.5 13.0 27.6 15 25C17.0 22.4 19.2 20.3 22 18.5C24.8 16.7 28.3 15.2 32 14C35.7 12.8 39.7 12.0 44 11.5C48.3 11.0 54.5 10.7 58 11C61.5 11.3 63.2 12.6 65 13.5C66.8 14.4 67.7 16.5 69 16.5C70.3 16.5 70.8 14.2 73 13.5C75.2 12.8 78.8 12.2 82 12.5C85.2 12.8 89.0 13.9 92 15.5C95.0 17.1 97.7 19.4 100 22C102.3 24.6 104.5 28.2 106 31C107.5 33.8 107.5 37.2 109 39C110.5 40.8 113.3 40.5 115 42C116.7 43.5 118.1 45.3 119 48C119.9 50.7 120.7 54.7 120.5 58C120.3 61.3 119.2 65.2 118 68C116.8 70.8 115.3 73.4 113 75C110.7 76.6 107.2 77.2 104 77.5C100.8 77.8 96.8 77.2 94 76.5C91.2 75.8 89.7 73.2 87 73C84.3 72.8 81.5 74.6 78 75C74.5 75.4 69.8 75.7 66 75.5C62.2 75.3 57.8 74.8 55 74C52.2 73.2 51.2 70.7 49 71C46.8 71.3 44.8 74.8 42 76C39.2 77.2 35.3 78.3 32 78.5C28.7 78.7 24.7 78.4 22 77C19.3 75.6 17.7 72.8 16 70C14.3 67.2 13.1 63.0 12 60C10.9 57.0 10.0 54.3 9.5 52C9.0 49.7 8.9 49.0 9 46Z" fill="#000" filter="url(#tn1)" opacity="0.13"/>
<path d="M9 46C9.1 43.0 9.0 37.5 10 34C11.0 30.5 13.0 27.6 15 25C17.0 22.4 19.2 20.3 22 18.5C24.8 16.7 28.3 15.2 32 14C35.7 12.8 39.7 12.0 44 11.5C48.3 11.0 54.5 10.7 58 11C61.5 11.3 63.2 12.6 65 13.5C66.8 14.4 67.7 16.5 69 16.5C70.3 16.5 70.8 14.2 73 13.5C75.2 12.8 78.8 12.2 82 12.5C85.2 12.8 89.0 13.9 92 15.5C95.0 17.1 97.7 19.4 100 22C102.3 24.6 104.5 28.2 106 31C107.5 33.8 107.5 37.2 109 39C110.5 40.8 113.3 40.5 115 42C116.7 43.5 118.1 45.3 119 48C119.9 50.7 120.7 54.7 120.5 58C120.3 61.3 119.2 65.2 118 68C116.8 70.8 115.3 73.4 113 75C110.7 76.6 107.2 77.2 104 77.5C100.8 77.8 96.8 77.2 94 76.5C91.2 75.8 89.7 73.2 87 73C84.3 72.8 81.5 74.6 78 75C74.5 75.4 69.8 75.7 66 75.5C62.2 75.3 57.8 74.8 55 74C52.2 73.2 51.2 70.7 49 71C46.8 71.3 44.8 74.8 42 76C39.2 77.2 35.3 78.3 32 78.5C28.7 78.7 24.7 78.4 22 77C19.3 75.6 17.7 72.8 16 70C14.3 67.2 13.1 63.0 12 60C10.9 57.0 10.0 54.3 9.5 52C9.0 49.7 8.9 49.0 9 46Z" fill="#000" filter="url(#tm1)" opacity="0.16"/>
<circle cx="65" cy="36" r="2.6" fill="#f4f4f4" filter="url(#tblur3)"/>
<circle cx="65.2" cy="35.6" r="1" fill="#222"/>
</g>
<g transform="translate(317 244)" clip-path="url(#tc2)">
<rect x="0" y="0" width="132.3" height="87.5" fill="#040404"/>
<path d="M10 44C9.8 40.7 10.0 37.0 10.5 34C11.0 31.0 11.6 28.3 13 26C14.4 23.7 16.8 21.8 19 20C21.2 18.2 23.2 16.9 26 15.5C28.8 14.1 32.7 12.4 36 11.5C39.3 10.6 42.7 10.2 46 10C49.3 9.8 53.3 10.0 56 10.5C58.7 11.0 60.3 12.4 62 13C63.7 13.6 64.7 14.1 66 14C67.3 13.9 68.0 13.1 70 12.5C72.0 11.9 75.0 10.7 78 10.5C81.0 10.3 84.7 10.6 88 11.5C91.3 12.4 95.0 14.2 98 16C101.0 17.8 103.7 19.8 106 22C108.3 24.2 110.3 26.3 112 29C113.7 31.7 115.2 34.8 116 38C116.8 41.2 117.0 44.7 117 48C117.0 51.3 116.8 54.7 116 58C115.2 61.3 113.3 65.3 112 68C110.7 70.7 109.7 72.8 108 74C106.3 75.2 104.3 75.7 102 75.5C99.7 75.3 97.0 73.9 94 73C91.0 72.1 87.0 70.1 84 70C81.0 69.9 79.0 72.0 76 72.5C73.0 73.0 69.3 73.1 66 73C62.7 72.9 58.8 72.5 56 72C53.2 71.5 51.3 69.7 49 70C46.7 70.3 44.5 72.8 42 74C39.5 75.2 36.7 76.5 34 77C31.3 77.5 28.3 78.2 26 77C23.7 75.8 21.8 72.5 20 70C18.2 67.5 16.3 64.7 15 62C13.7 59.3 12.8 57.0 12 54C11.2 51.0 10.2 47.3 10 44Z" fill="#9a9a9a" filter="url(#tblur)"/>
<g filter="url(#tblur2)">
<ellipse cx="42" cy="44" rx="13" ry="11" fill="#727272"/>
<ellipse cx="88" cy="44" rx="12" ry="11" fill="#6e6e6e"/>
<ellipse cx="64" cy="56" rx="13" ry="11" fill="#858585"/>
</g>
<path d="M28 40C32 30 42 26 54 25C62 25 70 25 78 26C86 27 92 32 95 40" fill="none" stroke="#5e5e5e" stroke-width="3.6" filter="url(#tblurA)"/>
<path d="M58 14C60 20 62 22 65 22C68 22 70 20 72 14" fill="none" stroke="#747474" stroke-width="1.4" filter="url(#tblur3)"/>
<path d="M10 44C9.8 40.7 10.0 37.0 10.5 34C11.0 31.0 11.6 28.3 13 26C14.4 23.7 16.8 21.8 19 20C21.2 18.2 23.2 16.9 26 15.5C28.8 14.1 32.7 12.4 36 11.5C39.3 10.6 42.7 10.2 46 10C49.3 9.8 53.3 10.0 56 10.5C58.7 11.0 60.3 12.4 62 13C63.7 13.6 64.7 14.1 66 14C67.3 13.9 68.0 13.1 70 12.5C72.0 11.9 75.0 10.7 78 10.5C81.0 10.3 84.7 10.6 88 11.5C91.3 12.4 95.0 14.2 98 16C101.0 17.8 103.7 19.8 106 22C108.3 24.2 110.3 26.3 112 29C113.7 31.7 115.2 34.8 116 38C116.8 41.2 117.0 44.7 117 48C117.0 51.3 116.8 54.7 116 58C115.2 61.3 113.3 65.3 112 68C110.7 70.7 109.7 72.8 108 74C106.3 75.2 104.3 75.7 102 75.5C99.7 75.3 97.0 73.9 94 73C91.0 72.1 87.0 70.1 84 70C81.0 69.9 79.0 72.0 76 72.5C73.0 73.0 69.3 73.1 66 73C62.7 72.9 58.8 72.5 56 72C53.2 71.5 51.3 69.7 49 70C46.7 70.3 44.5 72.8 42 74C39.5 75.2 36.7 76.5 34 77C31.3 77.5 28.3 78.2 26 77C23.7 75.8 21.8 72.5 20 70C18.2 67.5 16.3 64.7 15 62C13.7 59.3 12.8 57.0 12 54C11.2 51.0 10.2 47.3 10 44Z" fill="#000" filter="url(#tn2)" opacity="0.13"/>
<path d="M10 44C9.8 40.7 10.0 37.0 10.5 34C11.0 31.0 11.6 28.3 13 26C14.4 23.7 16.8 21.8 19 20C21.2 18.2 23.2 16.9 26 15.5C28.8 14.1 32.7 12.4 36 11.5C39.3 10.6 42.7 10.2 46 10C49.3 9.8 53.3 10.0 56 10.5C58.7 11.0 60.3 12.4 62 13C63.7 13.6 64.7 14.1 66 14C67.3 13.9 68.0 13.1 70 12.5C72.0 11.9 75.0 10.7 78 10.5C81.0 10.3 84.7 10.6 88 11.5C91.3 12.4 95.0 14.2 98 16C101.0 17.8 103.7 19.8 106 22C108.3 24.2 110.3 26.3 112 29C113.7 31.7 115.2 34.8 116 38C116.8 41.2 117.0 44.7 117 48C117.0 51.3 116.8 54.7 116 58C115.2 61.3 113.3 65.3 112 68C110.7 70.7 109.7 72.8 108 74C106.3 75.2 104.3 75.7 102 75.5C99.7 75.3 97.0 73.9 94 73C91.0 72.1 87.0 70.1 84 70C81.0 69.9 79.0 72.0 76 72.5C73.0 73.0 69.3 73.1 66 73C62.7 72.9 58.8 72.5 56 72C53.2 71.5 51.3 69.7 49 70C46.7 70.3 44.5 72.8 42 74C39.5 75.2 36.7 76.5 34 77C31.3 77.5 28.3 78.2 26 77C23.7 75.8 21.8 72.5 20 70C18.2 67.5 16.3 64.7 15 62C13.7 59.3 12.8 57.0 12 54C11.2 51.0 10.2 47.3 10 44Z" fill="#000" filter="url(#tm2)" opacity="0.16"/>
<ellipse cx="61" cy="49.5" rx="2.6" ry="2.2" fill="#fff" filter="url(#tblur3)"/>
<ellipse cx="61.5" cy="52.5" rx="1.5" ry="1.2" fill="#333" filter="url(#tblur3)"/>
</g>
<defs>
<filter id="dblur" x="-0.3" y="-0.3" width="1.6" height="1.6"><feGaussianBlur stdDeviation="1.3"/></filter>
<filter id="dblur1" x="-0.3" y="-0.3" width="1.6" height="1.6"><feGaussianBlur stdDeviation="0.6"/></filter>
<filter id="dn0" x="0" y="0" width="1" height="1" color-interpolation-filters="sRGB"><feTurbulence type="fractalNoise" baseFrequency="0.17" numOctaves="3" seed="70"/><feColorMatrix type="matrix" values="4.4 0 0 0 -2.00  -1.1 4.4 0 0 -1.72  1.1 0 4.0 0 -1.96  0 0 0 0 1"/><feComponentTransfer><feFuncR type="linear" slope="0.92" intercept="0.02"/><feFuncG type="linear" slope="0.85" intercept="0"/><feFuncB type="linear" slope="0.72" intercept="0.25"/></feComponentTransfer><feGaussianBlur stdDeviation="0.55"/><feComposite in2="SourceAlpha" operator="in"/></filter>
<filter id="dk0" x="0" y="0" width="1" height="1" color-interpolation-filters="sRGB"><feTurbulence type="fractalNoise" baseFrequency="0.24" numOctaves="2" seed="80"/><feColorMatrix type="matrix" values="0 0 0 0 0.016 0 0 0 0 0.0 0 0 0 0 0.196 7 0 0 0 -3.5"/><feComposite in2="SourceAlpha" operator="in"/></filter>
<filter id="de0" x="0" y="0" width="1" height="1" color-interpolation-filters="sRGB"><feTurbulence type="fractalNoise" baseFrequency="0.22" numOctaves="2" seed="60"/><feColorMatrix type="matrix" values="0 0 0 0 0.008 0 0 0 0 0.0 0 0 0 0 0.243 10 0 0 0 -4.7"/><feComposite in2="SourceAlpha" operator="in"/></filter>
<filter id="dp0" x="0" y="0" width="1" height="1" color-interpolation-filters="sRGB"><feTurbulence type="fractalNoise" baseFrequency="0.17" numOctaves="2" seed="90"/><feColorMatrix type="matrix" values="0 0 0 0 0.922 0 0 0 0 0.098 0 0 0 0 0.49 8 0 0 0 -4.0"/><feComposite in2="SourceAlpha" operator="in"/></filter>
<filter id="dg0" x="0" y="0" width="1" height="1" color-interpolation-filters="sRGB"><feTurbulence type="fractalNoise" baseFrequency="0.17" numOctaves="2" seed="95"/><feColorMatrix type="matrix" values="0 0 0 0 0.078 0 0 0 0 0.922 0 0 0 0 0.157 8 0 0 0 -4.0"/><feComposite in2="SourceAlpha" operator="in"/></filter>
<filter id="dw0" x="0" y="0" width="1" height="1" color-interpolation-filters="sRGB"><feTurbulence type="fractalNoise" baseFrequency="0.2" numOctaves="2" seed="99"/><feColorMatrix type="matrix" values="0 0 0 0 0.941 0 0 0 0 0.902 0 0 0 0 0.961 10 0 0 0 -6.6"/><feComposite in2="SourceAlpha" operator="in"/></filter>
<clipPath id="dc0"><rect x="0" y="0" width="133" height="79.6"/></clipPath>
<filter id="dn1" x="0" y="0" width="1" height="1" color-interpolation-filters="sRGB"><feTurbulence type="fractalNoise" baseFrequency="0.17" numOctaves="3" seed="71"/><feColorMatrix type="matrix" values="4.4 0 0 0 -2.00  -1.1 4.4 0 0 -1.72  1.1 0 4.0 0 -1.96  0 0 0 0 1"/><feComponentTransfer><feFuncR type="linear" slope="0.92" intercept="0.02"/><feFuncG type="linear" slope="0.85" intercept="0"/><feFuncB type="linear" slope="0.72" intercept="0.25"/></feComponentTransfer><feGaussianBlur stdDeviation="0.55"/><feComposite in2="SourceAlpha" operator="in"/></filter>
<filter id="dk1" x="0" y="0" width="1" height="1" color-interpolation-filters="sRGB"><feTurbulence type="fractalNoise" baseFrequency="0.24" numOctaves="2" seed="81"/><feColorMatrix type="matrix" values="0 0 0 0 0.016 0 0 0 0 0.0 0 0 0 0 0.196 7 0 0 0 -3.5"/><feComposite in2="SourceAlpha" operator="in"/></filter>
<filter id="de1" x="0" y="0" width="1" height="1" color-interpolation-filters="sRGB"><feTurbulence type="fractalNoise" baseFrequency="0.22" numOctaves="2" seed="61"/><feColorMatrix type="matrix" values="0 0 0 0 0.008 0 0 0 0 0.0 0 0 0 0 0.243 10 0 0 0 -4.7"/><feComposite in2="SourceAlpha" operator="in"/></filter>
<filter id="dp1" x="0" y="0" width="1" height="1" color-interpolation-filters="sRGB"><feTurbulence type="fractalNoise" baseFrequency="0.17" numOctaves="2" seed="91"/><feColorMatrix type="matrix" values="0 0 0 0 0.922 0 0 0 0 0.098 0 0 0 0 0.49 8 0 0 0 -4.0"/><feComposite in2="SourceAlpha" operator="in"/></filter>
<filter id="dg1" x="0" y="0" width="1" height="1" color-interpolation-filters="sRGB"><feTurbulence type="fractalNoise" baseFrequency="0.17" numOctaves="2" seed="96"/><feColorMatrix type="matrix" values="0 0 0 0 0.078 0 0 0 0 0.922 0 0 0 0 0.157 8 0 0 0 -4.0"/><feComposite in2="SourceAlpha" operator="in"/></filter>
<filter id="dw1" x="0" y="0" width="1" height="1" color-interpolation-filters="sRGB"><feTurbulence type="fractalNoise" baseFrequency="0.2" numOctaves="2" seed="100"/><feColorMatrix type="matrix" values="0 0 0 0 0.941 0 0 0 0 0.902 0 0 0 0 0.961 10 0 0 0 -6.6"/><feComposite in2="SourceAlpha" operator="in"/></filter>
<clipPath id="dc1"><rect x="0" y="0" width="133" height="79.6"/></clipPath>
<filter id="dn2" x="0" y="0" width="1" height="1" color-interpolation-filters="sRGB"><feTurbulence type="fractalNoise" baseFrequency="0.17" numOctaves="3" seed="72"/><feColorMatrix type="matrix" values="4.4 0 0 0 -2.00  -1.1 4.4 0 0 -1.72  1.1 0 4.0 0 -1.96  0 0 0 0 1"/><feComponentTransfer><feFuncR type="linear" slope="0.92" intercept="0.02"/><feFuncG type="linear" slope="0.85" intercept="0"/><feFuncB type="linear" slope="0.72" intercept="0.25"/></feComponentTransfer><feGaussianBlur stdDeviation="0.55"/><feComposite in2="SourceAlpha" operator="in"/></filter>
<filter id="dk2" x="0" y="0" width="1" height="1" color-interpolation-filters="sRGB"><feTurbulence type="fractalNoise" baseFrequency="0.24" numOctaves="2" seed="82"/><feColorMatrix type="matrix" values="0 0 0 0 0.016 0 0 0 0 0.0 0 0 0 0 0.196 7 0 0 0 -3.5"/><feComposite in2="SourceAlpha" operator="in"/></filter>
<filter id="de2" x="0" y="0" width="1" height="1" color-interpolation-filters="sRGB"><feTurbulence type="fractalNoise" baseFrequency="0.22" numOctaves="2" seed="62"/><feColorMatrix type="matrix" values="0 0 0 0 0.008 0 0 0 0 0.0 0 0 0 0 0.243 10 0 0 0 -4.7"/><feComposite in2="SourceAlpha" operator="in"/></filter>
<filter id="dp2" x="0" y="0" width="1" height="1" color-interpolation-filters="sRGB"><feTurbulence type="fractalNoise" baseFrequency="0.17" numOctaves="2" seed="92"/><feColorMatrix type="matrix" values="0 0 0 0 0.922 0 0 0 0 0.098 0 0 0 0 0.49 8 0 0 0 -4.0"/><feComposite in2="SourceAlpha" operator="in"/></filter>
<filter id="dg2" x="0" y="0" width="1" height="1" color-interpolation-filters="sRGB"><feTurbulence type="fractalNoise" baseFrequency="0.17" numOctaves="2" seed="97"/><feColorMatrix type="matrix" values="0 0 0 0 0.078 0 0 0 0 0.922 0 0 0 0 0.157 8 0 0 0 -4.0"/><feComposite in2="SourceAlpha" operator="in"/></filter>
<filter id="dw2" x="0" y="0" width="1" height="1" color-interpolation-filters="sRGB"><feTurbulence type="fractalNoise" baseFrequency="0.2" numOctaves="2" seed="101"/><feColorMatrix type="matrix" values="0 0 0 0 0.941 0 0 0 0 0.902 0 0 0 0 0.961 10 0 0 0 -6.6"/><feComposite in2="SourceAlpha" operator="in"/></filter>
<clipPath id="dc2"><rect x="0" y="0" width="132.3" height="79.6"/></clipPath>
</defs>
<g transform="translate(37 338)" clip-path="url(#dc0)">
<rect x="0" y="0" width="133" height="79.6" fill="#02003e"/>
<path d="M5 39C5.3 35.5 6.8 29.8 8 26C9.2 22.2 10.0 18.8 12 16C14.0 13.2 17.2 10.8 20 9C22.8 7.2 25.7 6.0 29 5C32.3 4.0 36.7 3.5 40 3C43.3 2.5 46.0 1.9 49 2C52.0 2.1 55.5 2.8 58 3.5C60.5 4.2 62.0 6.0 64 6C66.0 6.0 67.0 4.2 70 3.5C73.0 2.8 78.3 2.2 82 2C85.7 1.8 88.8 2.2 92 2.5C95.2 2.8 98.0 2.9 101 4C104.0 5.1 107.3 7.0 110 9C112.7 11.0 115.0 13.0 117 16C119.0 19.0 120.8 23.2 122 27C123.2 30.8 123.8 35.5 124 39C124.2 42.5 123.7 45.2 123 48C122.3 50.8 121.3 53.5 120 56C118.7 58.5 116.8 61.0 115 63C113.2 65.0 111.5 66.7 109 68C106.5 69.3 102.7 70.7 100 71C97.3 71.3 95.0 70.8 93 70C91.0 69.2 89.3 67.3 88 66C86.7 64.7 87.0 62.0 85 62C83.0 62.0 79.5 65.0 76 66C72.5 67.0 67.7 67.8 64 68C60.3 68.2 57.2 67.7 54 67C50.8 66.3 47.3 63.8 45 64C42.7 64.2 41.7 67.0 40 68C38.3 69.0 37.3 69.4 35 70C32.7 70.6 28.7 71.5 26 71.5C23.3 71.5 21.2 71.2 19 70C16.8 68.8 14.7 66.3 13 64C11.3 61.7 10.2 58.8 9 56C7.8 53.2 6.7 49.8 6 47C5.3 44.2 4.7 42.5 5 39Z" fill="#2a1a70" stroke="#2a1a70" stroke-width="1" filter="url(#dblur1)"/>
<path d="M5 39C5.3 35.5 6.8 29.8 8 26C9.2 22.2 10.0 18.8 12 16C14.0 13.2 17.2 10.8 20 9C22.8 7.2 25.7 6.0 29 5C32.3 4.0 36.7 3.5 40 3C43.3 2.5 46.0 1.9 49 2C52.0 2.1 55.5 2.8 58 3.5C60.5 4.2 62.0 6.0 64 6C66.0 6.0 67.0 4.2 70 3.5C73.0 2.8 78.3 2.2 82 2C85.7 1.8 88.8 2.2 92 2.5C95.2 2.8 98.0 2.9 101 4C104.0 5.1 107.3 7.0 110 9C112.7 11.0 115.0 13.0 117 16C119.0 19.0 120.8 23.2 122 27C123.2 30.8 123.8 35.5 124 39C124.2 42.5 123.7 45.2 123 48C122.3 50.8 121.3 53.5 120 56C118.7 58.5 116.8 61.0 115 63C113.2 65.0 111.5 66.7 109 68C106.5 69.3 102.7 70.7 100 71C97.3 71.3 95.0 70.8 93 70C91.0 69.2 89.3 67.3 88 66C86.7 64.7 87.0 62.0 85 62C83.0 62.0 79.5 65.0 76 66C72.5 67.0 67.7 67.8 64 68C60.3 68.2 57.2 67.7 54 67C50.8 66.3 47.3 63.8 45 64C42.7 64.2 41.7 67.0 40 68C38.3 69.0 37.3 69.4 35 70C32.7 70.6 28.7 71.5 26 71.5C23.3 71.5 21.2 71.2 19 70C16.8 68.8 14.7 66.3 13 64C11.3 61.7 10.2 58.8 9 56C7.8 53.2 6.7 49.8 6 47C5.3 44.2 4.7 42.5 5 39Z" fill="#000" filter="url(#dn0)"/>
<path d="M19 30C22 24 28 18 36 17C42 16 48 16 52 15" fill="none" stroke="#d8e020" stroke-width="1.8" filter="url(#dblur1)"/>
<path d="M18 34C19 30 20 28 22 26" fill="none" stroke="#30e040" stroke-width="1.8" filter="url(#dblur1)"/>
<path d="M36 20H54V38H36Z" fill="#000" filter="url(#dp0)"/>
<ellipse cx="45" cy="29" rx="6.5" ry="7" fill="#e0207c" filter="url(#dblur)"/>
<ellipse cx="83" cy="25" rx="4" ry="3.5" fill="#f0d0e8" filter="url(#dblur)"/>
<path d="M52 16C60 18 72 18 82 20C92 22 100 24 108 30" fill="none" stroke="#e03070" stroke-width="1.6" filter="url(#dblur1)" opacity="0.8"/>
<ellipse cx="93" cy="40" rx="9" ry="12" fill="#000" filter="url(#dg0)"/>
<ellipse cx="93" cy="38" rx="5" ry="8" fill="#28e040" filter="url(#dblur)" opacity="0.75"/>
<path d="M38 46H52V58H38Z" fill="#000" filter="url(#dg0)"/>
<ellipse cx="40" cy="54" rx="20" ry="10" fill="#000" filter="url(#dp0)" opacity="0.7"/>
<circle cx="62" cy="23" r="2.4" fill="#02002a" filter="url(#dblur1)"/>
<path d="M5 39C5.3 35.5 6.8 29.8 8 26C9.2 22.2 10.0 18.8 12 16C14.0 13.2 17.2 10.8 20 9C22.8 7.2 25.7 6.0 29 5C32.3 4.0 36.7 3.5 40 3C43.3 2.5 46.0 1.9 49 2C52.0 2.1 55.5 2.8 58 3.5C60.5 4.2 62.0 6.0 64 6C66.0 6.0 67.0 4.2 70 3.5C73.0 2.8 78.3 2.2 82 2C85.7 1.8 88.8 2.2 92 2.5C95.2 2.8 98.0 2.9 101 4C104.0 5.1 107.3 7.0 110 9C112.7 11.0 115.0 13.0 117 16C119.0 19.0 120.8 23.2 122 27C123.2 30.8 123.8 35.5 124 39C124.2 42.5 123.7 45.2 123 48C122.3 50.8 121.3 53.5 120 56C118.7 58.5 116.8 61.0 115 63C113.2 65.0 111.5 66.7 109 68C106.5 69.3 102.7 70.7 100 71C97.3 71.3 95.0 70.8 93 70C91.0 69.2 89.3 67.3 88 66C86.7 64.7 87.0 62.0 85 62C83.0 62.0 79.5 65.0 76 66C72.5 67.0 67.7 67.8 64 68C60.3 68.2 57.2 67.7 54 67C50.8 66.3 47.3 63.8 45 64C42.7 64.2 41.7 67.0 40 68C38.3 69.0 37.3 69.4 35 70C32.7 70.6 28.7 71.5 26 71.5C23.3 71.5 21.2 71.2 19 70C16.8 68.8 14.7 66.3 13 64C11.3 61.7 10.2 58.8 9 56C7.8 53.2 6.7 49.8 6 47C5.3 44.2 4.7 42.5 5 39Z" fill="#000" filter="url(#dk0)" opacity="0.4"/>
<path d="M5 39C5.3 35.5 6.8 29.8 8 26C9.2 22.2 10.0 18.8 12 16C14.0 13.2 17.2 10.8 20 9C22.8 7.2 25.7 6.0 29 5C32.3 4.0 36.7 3.5 40 3C43.3 2.5 46.0 1.9 49 2C52.0 2.1 55.5 2.8 58 3.5C60.5 4.2 62.0 6.0 64 6C66.0 6.0 67.0 4.2 70 3.5C73.0 2.8 78.3 2.2 82 2C85.7 1.8 88.8 2.2 92 2.5C95.2 2.8 98.0 2.9 101 4C104.0 5.1 107.3 7.0 110 9C112.7 11.0 115.0 13.0 117 16C119.0 19.0 120.8 23.2 122 27C123.2 30.8 123.8 35.5 124 39C124.2 42.5 123.7 45.2 123 48C122.3 50.8 121.3 53.5 120 56C118.7 58.5 116.8 61.0 115 63C113.2 65.0 111.5 66.7 109 68C106.5 69.3 102.7 70.7 100 71C97.3 71.3 95.0 70.8 93 70C91.0 69.2 89.3 67.3 88 66C86.7 64.7 87.0 62.0 85 62C83.0 62.0 79.5 65.0 76 66C72.5 67.0 67.7 67.8 64 68C60.3 68.2 57.2 67.7 54 67C50.8 66.3 47.3 63.8 45 64C42.7 64.2 41.7 67.0 40 68C38.3 69.0 37.3 69.4 35 70C32.7 70.6 28.7 71.5 26 71.5C23.3 71.5 21.2 71.2 19 70C16.8 68.8 14.7 66.3 13 64C11.3 61.7 10.2 58.8 9 56C7.8 53.2 6.7 49.8 6 47C5.3 44.2 4.7 42.5 5 39Z" fill="none" stroke="#000" stroke-width="5" filter="url(#de0)"/>
</g>
<g transform="translate(177 338)" clip-path="url(#dc1)">
<rect x="0" y="0" width="133" height="79.6" fill="#02003e"/>
<path d="M9 39C9.2 36.2 9.8 30.7 11 27C12.2 23.3 14.0 19.8 16 17C18.0 14.2 20.5 11.8 23 10C25.5 8.2 28.2 7.1 31 6C33.8 4.9 36.8 4.2 40 3.5C43.2 2.8 47.0 2.2 50 2C53.0 1.8 55.3 2.3 58 2.5C60.7 2.7 63.2 3.0 66 3C68.8 3.0 72.2 2.5 75 2.5C77.8 2.5 80.2 2.6 83 3C85.8 3.4 89.3 4.2 92 5C94.7 5.8 96.8 6.6 99 8C101.2 9.4 103.3 11.7 105 13.5C106.7 15.3 107.8 16.9 109 19C110.2 21.1 111.5 23.7 112.5 26C113.5 28.3 113.9 31.3 115 33C116.1 34.7 117.8 34.7 119 36C120.2 37.3 121.6 38.8 122 41C122.4 43.2 122.2 46.5 121.5 49C120.8 51.5 119.4 54.0 118 56C116.6 58.0 114.5 59.7 113 61C111.5 62.3 111.2 63.3 109 64C106.8 64.7 103.3 65.0 100 65C96.7 65.0 92.7 64.0 89 64C85.3 64.0 81.8 64.8 78 65C74.2 65.2 69.7 65.2 66 65C62.3 64.8 58.8 64.5 56 64C53.2 63.5 51.3 61.8 49 62C46.7 62.2 44.7 64.3 42 65C39.3 65.7 35.8 66.0 33 66C30.2 66.0 27.3 65.7 25 65C22.7 64.3 20.8 63.5 19 62C17.2 60.5 15.3 58.0 14 56C12.7 54.0 11.8 52.0 11 50C10.2 48.0 9.8 45.8 9.5 44C9.2 42.2 8.8 41.8 9 39Z" fill="#2a1a70" stroke="#2a1a70" stroke-width="1" filter="url(#dblur1)"/>
<path d="M9 39C9.2 36.2 9.8 30.7 11 27C12.2 23.3 14.0 19.8 16 17C18.0 14.2 20.5 11.8 23 10C25.5 8.2 28.2 7.1 31 6C33.8 4.9 36.8 4.2 40 3.5C43.2 2.8 47.0 2.2 50 2C53.0 1.8 55.3 2.3 58 2.5C60.7 2.7 63.2 3.0 66 3C68.8 3.0 72.2 2.5 75 2.5C77.8 2.5 80.2 2.6 83 3C85.8 3.4 89.3 4.2 92 5C94.7 5.8 96.8 6.6 99 8C101.2 9.4 103.3 11.7 105 13.5C106.7 15.3 107.8 16.9 109 19C110.2 21.1 111.5 23.7 112.5 26C113.5 28.3 113.9 31.3 115 33C116.1 34.7 117.8 34.7 119 36C120.2 37.3 121.6 38.8 122 41C122.4 43.2 122.2 46.5 121.5 49C120.8 51.5 119.4 54.0 118 56C116.6 58.0 114.5 59.7 113 61C111.5 62.3 111.2 63.3 109 64C106.8 64.7 103.3 65.0 100 65C96.7 65.0 92.7 64.0 89 64C85.3 64.0 81.8 64.8 78 65C74.2 65.2 69.7 65.2 66 65C62.3 64.8 58.8 64.5 56 64C53.2 63.5 51.3 61.8 49 62C46.7 62.2 44.7 64.3 42 65C39.3 65.7 35.8 66.0 33 66C30.2 66.0 27.3 65.7 25 65C22.7 64.3 20.8 63.5 19 62C17.2 60.5 15.3 58.0 14 56C12.7 54.0 11.8 52.0 11 50C10.2 48.0 9.8 45.8 9.5 44C9.2 42.2 8.8 41.8 9 39Z" fill="#000" filter="url(#dn1)"/>
<path d="M34 15H50V30H34Z" fill="#000" filter="url(#dp1)"/>
<ellipse cx="41" cy="22" rx="6.5" ry="6.5" fill="#e0207c" filter="url(#dblur)"/>
<ellipse cx="91" cy="24" rx="5.5" ry="7" fill="#e0207c" filter="url(#dblur)"/>
<path d="M84 16H98V32H84Z" fill="#000" filter="url(#dw1)" opacity="0.6"/>
<path d="M25 23C30 30 36 36 41 42C44 46 46 50 47 53" fill="none" stroke="#20e040" stroke-width="2.2" filter="url(#dblur1)"/>
<ellipse cx="33" cy="41" rx="14" ry="15" fill="#000" filter="url(#dg1)" opacity="0.5"/>
<ellipse cx="70" cy="39" rx="16" ry="9" fill="#000" filter="url(#dp1)"/>
<path d="M90 36H100V46H90Z" fill="#000" filter="url(#dg1)"/>
<ellipse cx="94" cy="40" rx="3.5" ry="3" fill="#28e040" filter="url(#dblur)" opacity="0.8"/>
<path d="M44 55C48 58 54 61 60 62" fill="none" stroke="#f4f4f4" stroke-width="2" filter="url(#dblur1)"/>
<path d="M62 10C64 12 66 14 68 15" fill="none" stroke="#e8e8f0" stroke-width="1.3" filter="url(#dblur1)"/>
<circle cx="67" cy="22" r="2.2" fill="#02002a" filter="url(#dblur1)"/>
<path d="M9 39C9.2 36.2 9.8 30.7 11 27C12.2 23.3 14.0 19.8 16 17C18.0 14.2 20.5 11.8 23 10C25.5 8.2 28.2 7.1 31 6C33.8 4.9 36.8 4.2 40 3.5C43.2 2.8 47.0 2.2 50 2C53.0 1.8 55.3 2.3 58 2.5C60.7 2.7 63.2 3.0 66 3C68.8 3.0 72.2 2.5 75 2.5C77.8 2.5 80.2 2.6 83 3C85.8 3.4 89.3 4.2 92 5C94.7 5.8 96.8 6.6 99 8C101.2 9.4 103.3 11.7 105 13.5C106.7 15.3 107.8 16.9 109 19C110.2 21.1 111.5 23.7 112.5 26C113.5 28.3 113.9 31.3 115 33C116.1 34.7 117.8 34.7 119 36C120.2 37.3 121.6 38.8 122 41C122.4 43.2 122.2 46.5 121.5 49C120.8 51.5 119.4 54.0 118 56C116.6 58.0 114.5 59.7 113 61C111.5 62.3 111.2 63.3 109 64C106.8 64.7 103.3 65.0 100 65C96.7 65.0 92.7 64.0 89 64C85.3 64.0 81.8 64.8 78 65C74.2 65.2 69.7 65.2 66 65C62.3 64.8 58.8 64.5 56 64C53.2 63.5 51.3 61.8 49 62C46.7 62.2 44.7 64.3 42 65C39.3 65.7 35.8 66.0 33 66C30.2 66.0 27.3 65.7 25 65C22.7 64.3 20.8 63.5 19 62C17.2 60.5 15.3 58.0 14 56C12.7 54.0 11.8 52.0 11 50C10.2 48.0 9.8 45.8 9.5 44C9.2 42.2 8.8 41.8 9 39Z" fill="#000" filter="url(#dk1)" opacity="0.4"/>
<path d="M9 39C9.2 36.2 9.8 30.7 11 27C12.2 23.3 14.0 19.8 16 17C18.0 14.2 20.5 11.8 23 10C25.5 8.2 28.2 7.1 31 6C33.8 4.9 36.8 4.2 40 3.5C43.2 2.8 47.0 2.2 50 2C53.0 1.8 55.3 2.3 58 2.5C60.7 2.7 63.2 3.0 66 3C68.8 3.0 72.2 2.5 75 2.5C77.8 2.5 80.2 2.6 83 3C85.8 3.4 89.3 4.2 92 5C94.7 5.8 96.8 6.6 99 8C101.2 9.4 103.3 11.7 105 13.5C106.7 15.3 107.8 16.9 109 19C110.2 21.1 111.5 23.7 112.5 26C113.5 28.3 113.9 31.3 115 33C116.1 34.7 117.8 34.7 119 36C120.2 37.3 121.6 38.8 122 41C122.4 43.2 122.2 46.5 121.5 49C120.8 51.5 119.4 54.0 118 56C116.6 58.0 114.5 59.7 113 61C111.5 62.3 111.2 63.3 109 64C106.8 64.7 103.3 65.0 100 65C96.7 65.0 92.7 64.0 89 64C85.3 64.0 81.8 64.8 78 65C74.2 65.2 69.7 65.2 66 65C62.3 64.8 58.8 64.5 56 64C53.2 63.5 51.3 61.8 49 62C46.7 62.2 44.7 64.3 42 65C39.3 65.7 35.8 66.0 33 66C30.2 66.0 27.3 65.7 25 65C22.7 64.3 20.8 63.5 19 62C17.2 60.5 15.3 58.0 14 56C12.7 54.0 11.8 52.0 11 50C10.2 48.0 9.8 45.8 9.5 44C9.2 42.2 8.8 41.8 9 39Z" fill="none" stroke="#000" stroke-width="5" filter="url(#de1)"/>
</g>
<g transform="translate(317 338)" clip-path="url(#dc2)">
<rect x="0" y="0" width="132.3" height="79.6" fill="#02003e"/>
<path d="M9 33C9.2 30.2 9.8 26.8 11 24C12.2 21.2 14.0 18.4 16 16C18.0 13.6 20.5 11.3 23 9.5C25.5 7.7 28.2 6.0 31 5C33.8 4.0 36.8 3.8 40 3.5C43.2 3.2 47.0 3.0 50 3C53.0 3.0 55.3 3.3 58 3.5C60.7 3.7 63.2 4.0 66 4C68.8 4.0 72.2 3.7 75 3.5C77.8 3.3 80.0 2.8 83 3C86.0 3.2 90.0 4.2 93 5C96.0 5.8 98.3 6.6 101 8C103.7 9.4 106.7 11.7 109 13.5C111.3 15.3 113.5 16.8 115 19C116.5 21.2 117.3 24.3 118 27C118.7 29.7 118.9 32.2 119 35C119.1 37.8 118.8 41.2 118.5 44C118.2 46.8 117.9 49.5 117 52C116.1 54.5 114.3 57.0 113 59C111.7 61.0 111.2 62.8 109 64C106.8 65.2 103.0 66.2 100 66.5C97.0 66.8 93.5 66.5 91 66C88.5 65.5 86.5 64.2 85 63.5C83.5 62.8 83.8 61.8 82 62C80.2 62.2 76.7 64.0 74 64.5C71.3 65.0 68.8 65.0 66 65C63.2 65.0 59.7 64.8 57 64.5C54.3 64.2 52.3 62.8 50 63C47.7 63.2 45.5 65.3 43 66C40.5 66.7 37.7 67.0 35 67C32.3 67.0 29.3 66.8 27 66C24.7 65.2 22.8 63.7 21 62C19.2 60.3 17.5 58.2 16 56C14.5 53.8 13.0 51.5 12 49C11.0 46.5 10.5 43.7 10 41C9.5 38.3 8.8 35.8 9 33Z" fill="#2a1a70" stroke="#2a1a70" stroke-width="1" filter="url(#dblur1)"/>
<path d="M9 33C9.2 30.2 9.8 26.8 11 24C12.2 21.2 14.0 18.4 16 16C18.0 13.6 20.5 11.3 23 9.5C25.5 7.7 28.2 6.0 31 5C33.8 4.0 36.8 3.8 40 3.5C43.2 3.2 47.0 3.0 50 3C53.0 3.0 55.3 3.3 58 3.5C60.7 3.7 63.2 4.0 66 4C68.8 4.0 72.2 3.7 75 3.5C77.8 3.3 80.0 2.8 83 3C86.0 3.2 90.0 4.2 93 5C96.0 5.8 98.3 6.6 101 8C103.7 9.4 106.7 11.7 109 13.5C111.3 15.3 113.5 16.8 115 19C116.5 21.2 117.3 24.3 118 27C118.7 29.7 118.9 32.2 119 35C119.1 37.8 118.8 41.2 118.5 44C118.2 46.8 117.9 49.5 117 52C116.1 54.5 114.3 57.0 113 59C111.7 61.0 111.2 62.8 109 64C106.8 65.2 103.0 66.2 100 66.5C97.0 66.8 93.5 66.5 91 66C88.5 65.5 86.5 64.2 85 63.5C83.5 62.8 83.8 61.8 82 62C80.2 62.2 76.7 64.0 74 64.5C71.3 65.0 68.8 65.0 66 65C63.2 65.0 59.7 64.8 57 64.5C54.3 64.2 52.3 62.8 50 63C47.7 63.2 45.5 65.3 43 66C40.5 66.7 37.7 67.0 35 67C32.3 67.0 29.3 66.8 27 66C24.7 65.2 22.8 63.7 21 62C19.2 60.3 17.5 58.2 16 56C14.5 53.8 13.0 51.5 12 49C11.0 46.5 10.5 43.7 10 41C9.5 38.3 8.8 35.8 9 33Z" fill="#000" filter="url(#dn2)"/>
<path d="M34 14H50V32H34Z" fill="#000" filter="url(#dp2)"/>
<ellipse cx="42" cy="23" rx="6" ry="6.5" fill="#e8509c" filter="url(#dblur)"/>
<ellipse cx="42" cy="27" rx="3.5" ry="3" fill="#f4e0f0" filter="url(#dblur)"/>
<ellipse cx="85" cy="27" rx="6.5" ry="5.5" fill="#e0207c" filter="url(#dblur)"/>
<path d="M78 7H100V20H78Z" fill="#000" filter="url(#dp2)"/>
<path d="M80 8H98V17H80Z" fill="#d81848" filter="url(#dblur)" opacity="0.55"/>
<ellipse cx="29" cy="44" rx="13" ry="14" fill="#000" filter="url(#dg2)" opacity="0.8"/>
<path d="M22 36C26 42 30 46 32 52" fill="none" stroke="#28e040" stroke-width="2.4" filter="url(#dblur1)" opacity="0.8"/>
<path d="M92 16H108V34H92Z" fill="#000" filter="url(#dg2)"/>
<ellipse cx="80" cy="45" rx="30" ry="15" fill="#000" filter="url(#dp2)" opacity="0.6"/>
<path d="M45 60C48 62 52 63.5 56 64" fill="none" stroke="#f4f4f4" stroke-width="1.8" filter="url(#dblur1)"/>
<circle cx="62" cy="42" r="3" fill="#02002a" filter="url(#dblur1)"/>
<path d="M9 33C9.2 30.2 9.8 26.8 11 24C12.2 21.2 14.0 18.4 16 16C18.0 13.6 20.5 11.3 23 9.5C25.5 7.7 28.2 6.0 31 5C33.8 4.0 36.8 3.8 40 3.5C43.2 3.2 47.0 3.0 50 3C53.0 3.0 55.3 3.3 58 3.5C60.7 3.7 63.2 4.0 66 4C68.8 4.0 72.2 3.7 75 3.5C77.8 3.3 80.0 2.8 83 3C86.0 3.2 90.0 4.2 93 5C96.0 5.8 98.3 6.6 101 8C103.7 9.4 106.7 11.7 109 13.5C111.3 15.3 113.5 16.8 115 19C116.5 21.2 117.3 24.3 118 27C118.7 29.7 118.9 32.2 119 35C119.1 37.8 118.8 41.2 118.5 44C118.2 46.8 117.9 49.5 117 52C116.1 54.5 114.3 57.0 113 59C111.7 61.0 111.2 62.8 109 64C106.8 65.2 103.0 66.2 100 66.5C97.0 66.8 93.5 66.5 91 66C88.5 65.5 86.5 64.2 85 63.5C83.5 62.8 83.8 61.8 82 62C80.2 62.2 76.7 64.0 74 64.5C71.3 65.0 68.8 65.0 66 65C63.2 65.0 59.7 64.8 57 64.5C54.3 64.2 52.3 62.8 50 63C47.7 63.2 45.5 65.3 43 66C40.5 66.7 37.7 67.0 35 67C32.3 67.0 29.3 66.8 27 66C24.7 65.2 22.8 63.7 21 62C19.2 60.3 17.5 58.2 16 56C14.5 53.8 13.0 51.5 12 49C11.0 46.5 10.5 43.7 10 41C9.5 38.3 8.8 35.8 9 33Z" fill="#000" filter="url(#dk2)" opacity="0.4"/>
<path d="M9 33C9.2 30.2 9.8 26.8 11 24C12.2 21.2 14.0 18.4 16 16C18.0 13.6 20.5 11.3 23 9.5C25.5 7.7 28.2 6.0 31 5C33.8 4.0 36.8 3.8 40 3.5C43.2 3.2 47.0 3.0 50 3C53.0 3.0 55.3 3.3 58 3.5C60.7 3.7 63.2 4.0 66 4C68.8 4.0 72.2 3.7 75 3.5C77.8 3.3 80.0 2.8 83 3C86.0 3.2 90.0 4.2 93 5C96.0 5.8 98.3 6.6 101 8C103.7 9.4 106.7 11.7 109 13.5C111.3 15.3 113.5 16.8 115 19C116.5 21.2 117.3 24.3 118 27C118.7 29.7 118.9 32.2 119 35C119.1 37.8 118.8 41.2 118.5 44C118.2 46.8 117.9 49.5 117 52C116.1 54.5 114.3 57.0 113 59C111.7 61.0 111.2 62.8 109 64C106.8 65.2 103.0 66.2 100 66.5C97.0 66.8 93.5 66.5 91 66C88.5 65.5 86.5 64.2 85 63.5C83.5 62.8 83.8 61.8 82 62C80.2 62.2 76.7 64.0 74 64.5C71.3 65.0 68.8 65.0 66 65C63.2 65.0 59.7 64.8 57 64.5C54.3 64.2 52.3 62.8 50 63C47.7 63.2 45.5 65.3 43 66C40.5 66.7 37.7 67.0 35 67C32.3 67.0 29.3 66.8 27 66C24.7 65.2 22.8 63.7 21 62C19.2 60.3 17.5 58.2 16 56C14.5 53.8 13.0 51.5 12 49C11.0 46.5 10.5 43.7 10 41C9.5 38.3 8.8 35.8 9 33Z" fill="none" stroke="#000" stroke-width="5" filter="url(#de2)"/>
</g>
<text transform="translate(469.16 14.3) scale(0.93 1)" font-size="20" font-weight="bold" fill="#000">c</text>
<text x="556.4" y="39.1" font-size="14" text-anchor="start" fill="#000" font-weight="bold" textLength="68.7" lengthAdjust="spacing" >Lesion size</text>
<line x1="501.5" y1="50" x2="501.5" y2="178.4" stroke="#a4a4a4" stroke-width="0.9" />
<line x1="501.5" y1="178.4" x2="683" y2="178.4" stroke="#a4a4a4" stroke-width="0.9" />
<line x1="499.3" y1="51.2" x2="501.5" y2="51.2" stroke="#888" stroke-width="0.8" />
<text x="497.5" y="54.78" font-size="10" text-anchor="end" fill="#2a2a2a" textLength="13.9" lengthAdjust="spacing" >100</text>
<line x1="499.3" y1="72.6" x2="501.5" y2="72.6" stroke="#888" stroke-width="0.8" />
<text x="497.5" y="76.18" font-size="10" text-anchor="end" fill="#2a2a2a" textLength="9.6" lengthAdjust="spacing" >80</text>
<line x1="499.3" y1="94.1" x2="501.5" y2="94.1" stroke="#888" stroke-width="0.8" />
<text x="497.5" y="97.68" font-size="10" text-anchor="end" fill="#2a2a2a" textLength="9.6" lengthAdjust="spacing" >60</text>
<line x1="499.3" y1="115.6" x2="501.5" y2="115.6" stroke="#888" stroke-width="0.8" />
<text x="497.5" y="119.18" font-size="10" text-anchor="end" fill="#2a2a2a" textLength="9.6" lengthAdjust="spacing" >40</text>
<line x1="499.3" y1="137.4" x2="501.5" y2="137.4" stroke="#888" stroke-width="0.8" />
<text x="497.5" y="140.98" font-size="10" text-anchor="end" fill="#2a2a2a" textLength="9.6" lengthAdjust="spacing" >20</text>
<line x1="499.3" y1="158.7" x2="501.5" y2="158.7" stroke="#888" stroke-width="0.8" />
<text x="497.5" y="162.28" font-size="10" text-anchor="end" fill="#2a2a2a" >0</text>
<line x1="537.5" y1="178.4" x2="537.5" y2="180.9" stroke="#99c" stroke-width="0.8" />
<line x1="592.5" y1="178.4" x2="592.5" y2="180.9" stroke="#99c" stroke-width="0.8" />
<line x1="647.7" y1="178.4" x2="647.7" y2="180.9" stroke="#99c" stroke-width="0.8" />
<text x="483.7" y="151.7" font-size="14" text-anchor="start" fill="#111" textLength="42.4" lengthAdjust="spacing" transform="rotate(-90 483.7 151.7)" >Volume</text>
<text x="483.7" y="102.6" font-size="14" text-anchor="start" fill="#111" textLength="27" lengthAdjust="spacing" transform="rotate(-90 483.7 102.6)" >(mm</text>
<text x="478.6" y="78.4" font-size="9" text-anchor="start" fill="#111" transform="rotate(-90 478.6 78.4)" >3</text>
<text x="483.7" y="72.6" font-size="14" text-anchor="start" fill="#111" transform="rotate(-90 483.7 72.6)" >)</text>
<line x1="521.3" y1="158.7" x2="553.9" y2="158.7" stroke="#777" stroke-width="0.8" />
<circle cx="537.5" cy="158.7" r="1.7" fill="#000"/>
<line x1="592.5" y1="66.8" x2="592.5" y2="114.6" stroke="#444" stroke-width="0.8" />
<line x1="588.8" y1="66.8" x2="596.2" y2="66.8" stroke="#444" stroke-width="0.8" />
<line x1="588.8" y1="114.6" x2="596.2" y2="114.6" stroke="#444" stroke-width="0.8" />
<rect x="576.4" y="79.2" width="32.7" height="31.4" fill="#0000f0" stroke="#666" stroke-width="0.6"/>
<line x1="577.4" y1="100.2" x2="608.1" y2="100.2" stroke="#77a" stroke-width="0.7" stroke-dasharray="1 1"/>
<circle cx="592.5" cy="66.8" r="1.7" fill="#000"/>
<circle cx="592.5" cy="73.1" r="1.7" fill="#000"/>
<circle cx="592.5" cy="81.3" r="1.7" fill="#000"/>
<circle cx="592.5" cy="92.7" r="1.7" fill="#000"/>
<circle cx="592.5" cy="97.4" r="1.7" fill="#000"/>
<circle cx="592.5" cy="103.7" r="1.7" fill="#000"/>
<circle cx="592.5" cy="108.5" r="1.7" fill="#000"/>
<circle cx="592.5" cy="114.6" r="1.7" fill="#000"/>
<line x1="647.7" y1="100.9" x2="647.7" y2="130.5" stroke="#444" stroke-width="0.8" />
<line x1="644.0" y1="100.9" x2="651.4000000000001" y2="100.9" stroke="#444" stroke-width="0.8" />
<line x1="644.0" y1="130.5" x2="651.4000000000001" y2="130.5" stroke="#444" stroke-width="0.8" />
<rect x="631.2" y="112.7" width="33.6" height="12.1" fill="#00ee00" stroke="#666" stroke-width="0.6"/>
<line x1="632.2" y1="118.9" x2="663.8" y2="118.9" stroke="#3a3" stroke-width="0.7" stroke-dasharray="1 1"/>
<circle cx="647.7" cy="100.9" r="1.7" fill="#000"/>
<circle cx="647.7" cy="104.4" r="1.7" fill="#000"/>
<circle cx="647.7" cy="115.6" r="1.7" fill="#000"/>
<circle cx="647.7" cy="117.2" r="1.7" fill="#000"/>
<circle cx="647.7" cy="118.6" r="1.7" fill="#000"/>
<circle cx="647.7" cy="120.1" r="1.7" fill="#000"/>
<circle cx="647.7" cy="121.5" r="1.7" fill="#000"/>
<circle cx="647.7" cy="123" r="1.7" fill="#000"/>
<circle cx="647.7" cy="130.5" r="1.7" fill="#000"/>
<path d="M591.8 62.6V58.5H647.3V62.6" fill="none" stroke="#1a1a1a" stroke-width="1.15"/>
<text x="646.2" y="79.92" font-size="17.5" text-anchor="middle" fill="#1a1a1a" textLength="18" lengthAdjust="spacing" >***</text>
<text x="519.8" y="191.3" font-size="14" text-anchor="start" fill="#111" textLength="34.7" lengthAdjust="spacing" >Sham</text>
<text x="571.6" y="191.3" font-size="14" text-anchor="start" fill="#111" textLength="41.6" lengthAdjust="spacing" >Control</text>
<text x="622.4" y="191.3" font-size="14" text-anchor="start" fill="#111" textLength="48.9" lengthAdjust="spacing" >NSC EV</text>
<text transform="translate(468.96 220.7) scale(0.93 1)" font-size="20" font-weight="bold" fill="#000">d</text>
<text x="566.3" y="242.3" font-size="14" text-anchor="start" fill="#000" font-weight="bold" textLength="49.7" lengthAdjust="spacing" >Atrophy</text>
<line x1="500" y1="267" x2="500" y2="396.4" stroke="#a4a4a4" stroke-width="0.9" />
<line x1="500" y1="396.4" x2="683" y2="396.4" stroke="#a4a4a4" stroke-width="0.9" />
<line x1="497.8" y1="268.8" x2="500" y2="268.8" stroke="#888" stroke-width="0.8" />
<text x="497.6" y="272.88" font-size="10" text-anchor="end" fill="#2a2a2a" textLength="9.8" lengthAdjust="spacing" >35</text>
<line x1="497.8" y1="285" x2="500" y2="285" stroke="#888" stroke-width="0.8" />
<text x="497.6" y="289.08" font-size="10" text-anchor="end" fill="#2a2a2a" textLength="9.8" lengthAdjust="spacing" >30</text>
<line x1="497.8" y1="301.1" x2="500" y2="301.1" stroke="#888" stroke-width="0.8" />
<text x="497.6" y="305.18" font-size="10" text-anchor="end" fill="#2a2a2a" textLength="9.8" lengthAdjust="spacing" >25</text>
<line x1="497.8" y1="317.2" x2="500" y2="317.2" stroke="#888" stroke-width="0.8" />
<text x="497.6" y="321.28" font-size="10" text-anchor="end" fill="#2a2a2a" textLength="9.8" lengthAdjust="spacing" >20</text>
<line x1="497.8" y1="333.3" x2="500" y2="333.3" stroke="#888" stroke-width="0.8" />
<text x="497.6" y="337.38" font-size="10" text-anchor="end" fill="#2a2a2a" textLength="9.8" lengthAdjust="spacing" >15</text>
<line x1="497.8" y1="349.4" x2="500" y2="349.4" stroke="#888" stroke-width="0.8" />
<text x="497.6" y="353.48" font-size="10" text-anchor="end" fill="#2a2a2a" textLength="9.8" lengthAdjust="spacing" >10</text>
<line x1="497.8" y1="365.5" x2="500" y2="365.5" stroke="#888" stroke-width="0.8" />
<text x="497.6" y="369.58" font-size="10" text-anchor="end" fill="#2a2a2a" >5</text>
<line x1="497.8" y1="381.6" x2="500" y2="381.6" stroke="#888" stroke-width="0.8" />
<text x="497.6" y="385.68" font-size="10" text-anchor="end" fill="#2a2a2a" >0</text>
<line x1="497.8" y1="396.4" x2="500" y2="396.4" stroke="#888" stroke-width="0.8" />
<text x="497.6" y="400.48" font-size="10" text-anchor="end" fill="#2a2a2a" >-5</text>
<line x1="535.6" y1="396.4" x2="535.6" y2="398.9" stroke="#99c" stroke-width="0.8" />
<line x1="591" y1="396.4" x2="591" y2="398.9" stroke="#99c" stroke-width="0.8" />
<line x1="645.7" y1="396.4" x2="645.7" y2="398.9" stroke="#99c" stroke-width="0.8" />
<text x="482.7" y="405.5" font-size="14" text-anchor="start" fill="#111" textLength="155.8" lengthAdjust="spacing" transform="rotate(-90 482.7 405.5)" >% Contralateral Hemisphere</text>
<line x1="535.6" y1="375.3" x2="535.6" y2="382" stroke="#444" stroke-width="0.8" />
<line x1="531.9" y1="375.3" x2="539.3000000000001" y2="375.3" stroke="#444" stroke-width="0.8" />
<line x1="531.9" y1="382" x2="539.3000000000001" y2="382" stroke="#444" stroke-width="0.8" />
<rect x="519.8" y="375.6" width="32.6" height="5.1" fill="#f4f400" stroke="#666" stroke-width="0.6"/>
<circle cx="535.6" cy="375.3" r="1.7" fill="#000"/>
<circle cx="535.6" cy="378" r="1.7" fill="#000"/>
<circle cx="535.6" cy="382" r="1.7" fill="#000"/>
<line x1="591" y1="277.2" x2="591" y2="350.1" stroke="#444" stroke-width="0.8" />
<line x1="587.3" y1="277.2" x2="594.7" y2="277.2" stroke="#444" stroke-width="0.8" />
<line x1="587.3" y1="350.1" x2="594.7" y2="350.1" stroke="#444" stroke-width="0.8" />
<rect x="574.9" y="279.5" width="32.9" height="62.2" fill="#0000f0" stroke="#666" stroke-width="0.6"/>
<line x1="575.9" y1="296.2" x2="606.8" y2="296.2" stroke="#a33" stroke-width="0.7" stroke-dasharray="1 1"/>
<circle cx="591" cy="277.2" r="1.7" fill="#000"/>
<circle cx="591" cy="281.7" r="1.7" fill="#000"/>
<circle cx="591" cy="296.4" r="1.7" fill="#000"/>
<circle cx="591" cy="334" r="1.7" fill="#000"/>
<circle cx="591" cy="350.1" r="1.7" fill="#000"/>
<line x1="645.7" y1="331.6" x2="645.7" y2="366.9" stroke="#444" stroke-width="0.8" />
<line x1="642.0" y1="331.6" x2="649.4000000000001" y2="331.6" stroke="#444" stroke-width="0.8" />
<line x1="642.0" y1="366.9" x2="649.4000000000001" y2="366.9" stroke="#444" stroke-width="0.8" />
<rect x="628.9" y="336" width="33.6" height="24.5" fill="#00ee00" stroke="#333" stroke-width="0.6"/>
<line x1="629.9" y1="341.4" x2="661.5" y2="341.4" stroke="#383" stroke-width="0.7" stroke-dasharray="1 1"/>
<circle cx="645.7" cy="331.6" r="1.7" fill="#000"/>
<circle cx="645.7" cy="341" r="1.7" fill="#000"/>
<circle cx="645.7" cy="354.1" r="1.7" fill="#000"/>
<circle cx="645.7" cy="366.9" r="1.7" fill="#000"/>
<path d="M590.3 264.8V260.7H645.7V264.8" fill="none" stroke="#1a1a1a" stroke-width="1.15"/>
<text x="617.5" y="259.41" font-size="13" text-anchor="middle" fill="#1a1a1a" stroke="#1a1a1a" stroke-width="0.25">#</text>
<text x="518.2" y="408.8" font-size="14" text-anchor="start" fill="#111" textLength="34.8" lengthAdjust="spacing" >Sham</text>
<text x="570.2" y="408.8" font-size="14" text-anchor="start" fill="#111" textLength="41.5" lengthAdjust="spacing" >Control</text>
<text x="621.3" y="408.8" font-size="14" text-anchor="start" fill="#111" textLength="48.2" lengthAdjust="spacing" >NSC EV</text>
<text transform="translate(0.76 444.2) scale(0.93 1)" font-size="20" font-weight="bold" fill="#000">e</text>
<text x="111.0" y="453.3" font-size="14" text-anchor="start" fill="#000" font-weight="bold" textLength="66.5" lengthAdjust="spacing" >Beam walk</text>
<line x1="52.4" y1="477.5" x2="52.4" y2="605.4" stroke="#a4a4a4" stroke-width="0.9" />
<line x1="52.4" y1="605.4" x2="236" y2="605.4" stroke="#a4a4a4" stroke-width="0.9" />
<line x1="50.199999999999996" y1="478.8" x2="52.4" y2="478.8" stroke="#888" stroke-width="0.8" />
<text x="47.6" y="481.18" font-size="10" text-anchor="end" fill="#2a2a2a" textLength="10.1" lengthAdjust="spacing" >35</text>
<line x1="50.199999999999996" y1="503.3" x2="52.4" y2="503.3" stroke="#888" stroke-width="0.8" />
<text x="47.6" y="505.68" font-size="10" text-anchor="end" fill="#2a2a2a" textLength="10.1" lengthAdjust="spacing" >30</text>
<line x1="50.199999999999996" y1="529.1" x2="52.4" y2="529.1" stroke="#888" stroke-width="0.8" />
<text x="47.6" y="531.48" font-size="10" text-anchor="end" fill="#2a2a2a" textLength="10.1" lengthAdjust="spacing" >25</text>
<line x1="50.199999999999996" y1="554.3" x2="52.4" y2="554.3" stroke="#888" stroke-width="0.8" />
<text x="47.6" y="556.68" font-size="10" text-anchor="end" fill="#2a2a2a" textLength="10.1" lengthAdjust="spacing" >20</text>
<line x1="50.199999999999996" y1="579.8" x2="52.4" y2="579.8" stroke="#888" stroke-width="0.8" />
<text x="47.6" y="582.18" font-size="10" text-anchor="end" fill="#2a2a2a" textLength="10.1" lengthAdjust="spacing" >15</text>
<line x1="50.199999999999996" y1="605.4" x2="52.4" y2="605.4" stroke="#888" stroke-width="0.8" />
<text x="47.6" y="607.78" font-size="10" text-anchor="end" fill="#2a2a2a" textLength="10.1" lengthAdjust="spacing" >10</text>
<line x1="88.3" y1="605.4" x2="88.3" y2="607.9" stroke="#99c" stroke-width="0.8" />
<line x1="143.7" y1="605.4" x2="143.7" y2="607.9" stroke="#99c" stroke-width="0.8" />
<line x1="198.8" y1="605.4" x2="198.8" y2="607.9" stroke="#99c" stroke-width="0.8" />
<text x="33.6" y="569.6" font-size="14" text-anchor="start" fill="#111" textLength="60.5" lengthAdjust="spacing" transform="rotate(-90 33.6 569.6)" >Time (sec)</text>
<line x1="88.3" y1="575.1" x2="88.3" y2="598.6" stroke="#444" stroke-width="0.8" />
<line x1="84.6" y1="575.1" x2="92.0" y2="575.1" stroke="#444" stroke-width="0.8" />
<line x1="84.6" y1="598.6" x2="92.0" y2="598.6" stroke="#444" stroke-width="0.8" />
<rect x="71.5" y="584.5" width="33.3" height="11.5" fill="#f4f400" stroke="#666" stroke-width="0.6"/>
<line x1="72.5" y1="590.2" x2="103.8" y2="590.2" stroke="#aa3" stroke-width="0.7" stroke-dasharray="1 1"/>
<circle cx="88.3" cy="575.1" r="1.7" fill="#000"/>
<circle cx="88.3" cy="581.9" r="1.7" fill="#000"/>
<circle cx="88.3" cy="585.2" r="1.7" fill="#000"/>
<circle cx="88.3" cy="587.9" r="1.7" fill="#000"/>
<circle cx="88.3" cy="590.6" r="1.7" fill="#000"/>
<circle cx="88.3" cy="593" r="1.7" fill="#000"/>
<circle cx="88.3" cy="595.3" r="1.7" fill="#000"/>
<circle cx="88.3" cy="598" r="1.7" fill="#000"/>
<line x1="143.7" y1="491.5" x2="143.7" y2="536.2" stroke="#444" stroke-width="0.8" />
<line x1="140.0" y1="491.5" x2="147.39999999999998" y2="491.5" stroke="#444" stroke-width="0.8" />
<line x1="140.0" y1="536.2" x2="147.39999999999998" y2="536.2" stroke="#444" stroke-width="0.8" />
<rect x="126.9" y="505.6" width="33.3" height="20.2" fill="#0000f0" stroke="#666" stroke-width="0.6"/>
<line x1="127.9" y1="510" x2="159.2" y2="510" stroke="#a33" stroke-width="0.7" stroke-dasharray="1 1"/>
<circle cx="143.7" cy="491.5" r="1.7" fill="#000"/>
<circle cx="143.7" cy="506.3" r="1.7" fill="#000"/>
<circle cx="143.7" cy="508" r="1.7" fill="#000"/>
<circle cx="143.7" cy="514" r="1.7" fill="#000"/>
<circle cx="143.7" cy="522.4" r="1.7" fill="#000"/>
<circle cx="143.7" cy="527.5" r="1.7" fill="#000"/>
<circle cx="143.7" cy="536.2" r="1.7" fill="#000"/>
<line x1="198.8" y1="521.4" x2="198.8" y2="593.9" stroke="#444" stroke-width="0.8" />
<line x1="195.10000000000002" y1="521.4" x2="202.5" y2="521.4" stroke="#444" stroke-width="0.8" />
<line x1="195.10000000000002" y1="593.9" x2="202.5" y2="593.9" stroke="#444" stroke-width="0.8" />
<rect x="182.3" y="551" width="33.3" height="26.5" fill="#00ee00" stroke="#666" stroke-width="0.6"/>
<line x1="183.3" y1="569.1" x2="214.6" y2="569.1" stroke="#383" stroke-width="0.7" stroke-dasharray="1 1"/>
<circle cx="198.8" cy="515.7" r="1.7" fill="#000"/>
<circle cx="198.8" cy="536.5" r="1.7" fill="#000"/>
<circle cx="198.8" cy="549.3" r="1.7" fill="#000"/>
<circle cx="198.8" cy="554.3" r="1.7" fill="#000"/>
<circle cx="198.8" cy="560.4" r="1.7" fill="#000"/>
<circle cx="198.8" cy="565.1" r="1.7" fill="#000"/>
<circle cx="198.8" cy="568.8" r="1.7" fill="#000"/>
<circle cx="198.8" cy="572.8" r="1.7" fill="#000"/>
<circle cx="198.8" cy="577.2" r="1.7" fill="#000"/>
<circle cx="198.8" cy="585.2" r="1.7" fill="#000"/>
<circle cx="198.8" cy="597.3" r="1.7" fill="#000"/>
<path d="M143.7 481.1V477.1H198.8V481.1" fill="none" stroke="#1a1a1a" stroke-width="1.15"/>
<text x="170.6" y="476.01" font-size="13" text-anchor="middle" fill="#1a1a1a" stroke="#1a1a1a" stroke-width="0.25">#</text>
<text x="143.7" y="496.82" font-size="17.5" text-anchor="middle" fill="#1a1a1a" >*</text>
<text x="198.8" y="515.23" font-size="17.5" text-anchor="middle" fill="#1a1a1a" >*</text>
<text x="68.2" y="618.7" font-size="14" text-anchor="start" fill="#111" textLength="34.8" lengthAdjust="spacing" >Sham</text>
<text x="120.3" y="618.7" font-size="14" text-anchor="start" fill="#111" textLength="40.8" lengthAdjust="spacing" >Control</text>
<text x="170.7" y="618.7" font-size="14" text-anchor="start" fill="#111" textLength="48.2" lengthAdjust="spacing" >NSC EV</text>
<text transform="translate(253.72 443.8) scale(0.93 1)" font-size="20" font-weight="bold" fill="#000">f</text>
<text x="337.0" y="453.3" font-size="14" text-anchor="start" fill="#000" font-weight="bold" textLength="59.8" lengthAdjust="spacing" >Foot slips</text>
<line x1="277" y1="477.5" x2="277" y2="605.4" stroke="#a4a4a4" stroke-width="0.9" />
<line x1="277" y1="605.4" x2="458" y2="605.4" stroke="#a4a4a4" stroke-width="0.9" />
<line x1="274.8" y1="478.8" x2="277" y2="478.8" stroke="#888" stroke-width="0.8" />
<text x="275.0" y="482.38" font-size="10" text-anchor="end" fill="#2a2a2a" textLength="10.9" lengthAdjust="spacing" >3.5</text>
<line x1="274.8" y1="494.9" x2="277" y2="494.9" stroke="#888" stroke-width="0.8" />
<text x="275.0" y="498.48" font-size="10" text-anchor="end" fill="#2a2a2a" textLength="10.9" lengthAdjust="spacing" >3.0</text>
<line x1="274.8" y1="511" x2="277" y2="511" stroke="#888" stroke-width="0.8" />
<text x="275.0" y="514.58" font-size="10" text-anchor="end" fill="#2a2a2a" textLength="10.9" lengthAdjust="spacing" >2.5</text>
<line x1="274.8" y1="527" x2="277" y2="527" stroke="#888" stroke-width="0.8" />
<text x="275.0" y="530.58" font-size="10" text-anchor="end" fill="#2a2a2a" textLength="10.9" lengthAdjust="spacing" >2.0</text>
<line x1="274.8" y1="543.1" x2="277" y2="543.1" stroke="#888" stroke-width="0.8" />
<text x="275.0" y="546.68" font-size="10" text-anchor="end" fill="#2a2a2a" textLength="10.9" lengthAdjust="spacing" >1.5</text>
<line x1="274.8" y1="559.2" x2="277" y2="559.2" stroke="#888" stroke-width="0.8" />
<text x="275.0" y="562.78" font-size="10" text-anchor="end" fill="#2a2a2a" textLength="10.9" lengthAdjust="spacing" >1.0</text>
<line x1="274.8" y1="575.2" x2="277" y2="575.2" stroke="#888" stroke-width="0.8" />
<text x="275.0" y="578.78" font-size="10" text-anchor="end" fill="#2a2a2a" textLength="10.9" lengthAdjust="spacing" >0.5</text>
<line x1="274.8" y1="591.3" x2="277" y2="591.3" stroke="#888" stroke-width="0.8" />
<text x="275.0" y="594.88" font-size="10" text-anchor="end" fill="#2a2a2a" textLength="10.9" lengthAdjust="spacing" >0.0</text>
<line x1="313.3" y1="605.4" x2="313.3" y2="607.9" stroke="#99c" stroke-width="0.8" />
<line x1="368.7" y1="605.4" x2="368.7" y2="607.9" stroke="#99c" stroke-width="0.8" />
<line x1="423.8" y1="605.4" x2="423.8" y2="607.9" stroke="#99c" stroke-width="0.8" />
<text x="261.5" y="550" font-size="14" text-anchor="start" fill="#111" textLength="34.3" lengthAdjust="spacing" transform="rotate(-90 261.5 550)" >Count</text>
<line x1="313.3" y1="537.5" x2="313.3" y2="591.3" stroke="#444" stroke-width="0.8" />
<line x1="309.6" y1="537.5" x2="317.0" y2="537.5" stroke="#444" stroke-width="0.8" />
<line x1="309.6" y1="591.3" x2="317.0" y2="591.3" stroke="#444" stroke-width="0.8" />
<rect x="296.5" y="547.6" width="33.6" height="32.9" fill="#f4f400" stroke="#666" stroke-width="0.6"/>
<circle cx="313.3" cy="537.5" r="1.7" fill="#000"/>
<circle cx="313.3" cy="547.9" r="1.7" fill="#000"/>
<circle cx="313.3" cy="569.8" r="1.7" fill="#000"/>
<circle cx="313.3" cy="580.5" r="1.7" fill="#000"/>
<circle cx="313.3" cy="591.3" r="1.7" fill="#000"/>
<line x1="368.7" y1="493.9" x2="368.7" y2="537.5" stroke="#444" stroke-width="0.8" />
<line x1="365.0" y1="493.9" x2="372.4" y2="493.9" stroke="#444" stroke-width="0.8" />
<line x1="365.0" y1="537.5" x2="372.4" y2="537.5" stroke="#444" stroke-width="0.8" />
<rect x="351.9" y="505" width="33.3" height="32.5" fill="#0000f0" stroke="#666" stroke-width="0.6"/>
<line x1="352.9" y1="520.7" x2="384.2" y2="520.7" stroke="#a33" stroke-width="0.7" stroke-dasharray="1 1"/>
<circle cx="368.7" cy="493.9" r="1.7" fill="#000"/>
<circle cx="368.7" cy="505" r="1.7" fill="#000"/>
<circle cx="368.7" cy="537.5" r="1.7" fill="#000"/>
<line x1="423.8" y1="511.3" x2="423.8" y2="587.9" stroke="#444" stroke-width="0.8" />
<line x1="420.1" y1="511.3" x2="427.5" y2="511.3" stroke="#444" stroke-width="0.8" />
<line x1="420.1" y1="587.9" x2="427.5" y2="587.9" stroke="#444" stroke-width="0.8" />
<rect x="407.3" y="537.5" width="33.3" height="32.6" fill="#00ee00" stroke="#666" stroke-width="0.6"/>
<line x1="408.3" y1="547.9" x2="439.6" y2="547.9" stroke="#383" stroke-width="0.7" stroke-dasharray="1 1"/>
<circle cx="423.8" cy="505" r="1.7" fill="#000"/>
<circle cx="423.8" cy="526.4" r="1.7" fill="#000"/>
<circle cx="423.8" cy="537.5" r="1.7" fill="#000"/>
<circle cx="423.8" cy="547.9" r="1.7" fill="#000"/>
<circle cx="423.8" cy="559" r="1.7" fill="#000"/>
<circle cx="423.8" cy="569.8" r="1.7" fill="#000"/>
<circle cx="423.8" cy="580.5" r="1.7" fill="#000"/>
<circle cx="423.8" cy="591.3" r="1.7" fill="#000"/>
<path d="M369.4 481.1V477.1H424.8V481.1" fill="none" stroke="#1a1a1a" stroke-width="1.15"/>
<text x="396.9" y="476.01" font-size="13" text-anchor="middle" fill="#1a1a1a" stroke="#1a1a1a" stroke-width="0.25">#</text>
<text x="370" y="496.82" font-size="17.5" text-anchor="middle" fill="#1a1a1a" >*</text>
<text x="293.2" y="619.4" font-size="14" text-anchor="start" fill="#111" textLength="34.1" lengthAdjust="spacing" >Sham</text>
<text x="345.3" y="619.4" font-size="14" text-anchor="start" fill="#111" textLength="40.8" lengthAdjust="spacing" >Control</text>
<text x="395.7" y="619.4" font-size="14" text-anchor="start" fill="#111" textLength="48.2" lengthAdjust="spacing" >NSC EV</text>
<text transform="translate(468.96 444.2) scale(0.93 1)" font-size="20" font-weight="bold" fill="#000">g</text>
<text x="548.5" y="453.3" font-size="14" text-anchor="start" fill="#000" font-weight="bold" textLength="80.9" lengthAdjust="spacing" >Hanging wire</text>
<line x1="496.6" y1="478.5" x2="496.6" y2="606.3" stroke="#a4a4a4" stroke-width="0.9" />
<line x1="496.6" y1="606.3" x2="680" y2="606.3" stroke="#a4a4a4" stroke-width="0.9" />
<line x1="494.40000000000003" y1="479.9" x2="496.6" y2="479.9" stroke="#888" stroke-width="0.8" />
<text x="493.5" y="483.88" font-size="10" text-anchor="end" fill="#2a2a2a" textLength="9.6" lengthAdjust="spacing" >40</text>
<line x1="494.40000000000003" y1="501" x2="496.6" y2="501" stroke="#888" stroke-width="0.8" />
<text x="493.5" y="504.98" font-size="10" text-anchor="end" fill="#2a2a2a" textLength="9.6" lengthAdjust="spacing" >35</text>
<line x1="494.40000000000003" y1="522.1" x2="496.6" y2="522.1" stroke="#888" stroke-width="0.8" />
<text x="493.5" y="526.08" font-size="10" text-anchor="end" fill="#2a2a2a" textLength="9.6" lengthAdjust="spacing" >30</text>
<line x1="494.40000000000003" y1="543.2" x2="496.6" y2="543.2" stroke="#888" stroke-width="0.8" />
<text x="493.5" y="547.18" font-size="10" text-anchor="end" fill="#2a2a2a" textLength="9.6" lengthAdjust="spacing" >25</text>
<line x1="494.40000000000003" y1="564.3" x2="496.6" y2="564.3" stroke="#888" stroke-width="0.8" />
<text x="493.5" y="568.28" font-size="10" text-anchor="end" fill="#2a2a2a" textLength="9.6" lengthAdjust="spacing" >20</text>
<line x1="494.40000000000003" y1="585.4" x2="496.6" y2="585.4" stroke="#888" stroke-width="0.8" />
<text x="493.5" y="589.38" font-size="10" text-anchor="end" fill="#2a2a2a" textLength="9.6" lengthAdjust="spacing" >15</text>
<line x1="494.40000000000003" y1="606.3" x2="496.6" y2="606.3" stroke="#888" stroke-width="0.8" />
<text x="493.5" y="610.28" font-size="10" text-anchor="end" fill="#2a2a2a" textLength="9.6" lengthAdjust="spacing" >10</text>
<line x1="532.9" y1="606.3" x2="532.9" y2="608.8" stroke="#99c" stroke-width="0.8" />
<line x1="588" y1="606.3" x2="588" y2="608.8" stroke="#99c" stroke-width="0.8" />
<line x1="643" y1="606.3" x2="643" y2="608.8" stroke="#99c" stroke-width="0.8" />
<text x="479" y="565.8" font-size="14" text-anchor="start" fill="#111" textLength="59.5" lengthAdjust="spacing" transform="rotate(-90 479 565.8)" >Time (sec)</text>
<line x1="532.9" y1="490.5" x2="532.9" y2="526.4" stroke="#444" stroke-width="0.8" />
<line x1="529.1999999999999" y1="490.5" x2="536.6" y2="490.5" stroke="#444" stroke-width="0.8" />
<line x1="529.1999999999999" y1="526.4" x2="536.6" y2="526.4" stroke="#444" stroke-width="0.8" />
<rect x="516.1" y="494.5" width="33.6" height="27.9" fill="#f4f400" stroke="#666" stroke-width="0.6"/>
<line x1="517.1" y1="505" x2="548.7" y2="505" stroke="#aa3" stroke-width="0.7" stroke-dasharray="1 1"/>
<circle cx="532.9" cy="490.5" r="1.7" fill="#000"/>
<circle cx="532.9" cy="493.9" r="1.7" fill="#000"/>
<circle cx="532.9" cy="497.9" r="1.7" fill="#000"/>
<circle cx="532.9" cy="505.3" r="1.7" fill="#000"/>
<circle cx="532.9" cy="510.7" r="1.7" fill="#000"/>
<circle cx="532.9" cy="522.4" r="1.7" fill="#000"/>
<circle cx="532.9" cy="524.8" r="1.7" fill="#000"/>
<circle cx="532.9" cy="526.4" r="1.7" fill="#000"/>
<line x1="588" y1="568.4" x2="588" y2="600.3" stroke="#444" stroke-width="0.8" />
<line x1="584.3" y1="568.4" x2="591.7" y2="568.4" stroke="#444" stroke-width="0.8" />
<line x1="584.3" y1="600.3" x2="591.7" y2="600.3" stroke="#444" stroke-width="0.8" />
<rect x="571.5" y="574.5" width="32.9" height="20.1" fill="#0000f0" stroke="#666" stroke-width="0.6"/>
<line x1="572.5" y1="586.2" x2="603.4" y2="586.2" stroke="#a33" stroke-width="0.7" stroke-dasharray="1 1"/>
<circle cx="588" cy="568.4" r="1.7" fill="#000"/>
<circle cx="588" cy="573.8" r="1.7" fill="#000"/>
<circle cx="588" cy="580.5" r="1.7" fill="#000"/>
<circle cx="588" cy="583.5" r="1.7" fill="#000"/>
<circle cx="588" cy="591.3" r="1.7" fill="#000"/>
<circle cx="588" cy="594.6" r="1.7" fill="#000"/>
<circle cx="588" cy="600.3" r="1.7" fill="#000"/>
<line x1="643" y1="497.9" x2="643" y2="548.6" stroke="#444" stroke-width="0.8" />
<line x1="639.3" y1="497.9" x2="646.7" y2="497.9" stroke="#444" stroke-width="0.8" />
<line x1="639.3" y1="548.6" x2="646.7" y2="548.6" stroke="#444" stroke-width="0.8" />
<rect x="626.3" y="520" width="33.5" height="25.9" fill="#00ee00" stroke="#666" stroke-width="0.6"/>
<line x1="627.3" y1="530.1" x2="658.8" y2="530.1" stroke="#383" stroke-width="0.7" stroke-dasharray="1 1"/>
<circle cx="643" cy="496.6" r="1.7" fill="#000"/>
<circle cx="643" cy="501.6" r="1.7" fill="#000"/>
<circle cx="643" cy="520" r="1.7" fill="#000"/>
<circle cx="643" cy="528.1" r="1.7" fill="#000"/>
<circle cx="643" cy="530.8" r="1.7" fill="#000"/>
<circle cx="643" cy="544.9" r="1.7" fill="#000"/>
<circle cx="643" cy="546.9" r="1.7" fill="#000"/>
<circle cx="643" cy="548.6" r="1.7" fill="#000"/>
<path d="M587.6 481.1V477.1H643V481.1" fill="none" stroke="#1a1a1a" stroke-width="1.15"/>
<text x="615.2" y="476.01" font-size="13" text-anchor="middle" fill="#1a1a1a" stroke="#1a1a1a" stroke-width="0.25">#</text>
<text x="643" y="493.62" font-size="17.5" text-anchor="middle" fill="#1a1a1a" >*</text>
<text x="587.8" y="563.02" font-size="17.5" text-anchor="middle" fill="#1a1a1a" >*</text>
<text x="516.5" y="619.4" font-size="14" text-anchor="start" fill="#111" textLength="34.1" lengthAdjust="spacing" >Sham</text>
<text x="567.6" y="619.4" font-size="14" text-anchor="start" fill="#111" textLength="41.8" lengthAdjust="spacing" >Control</text>
<text x="618.9" y="619.4" font-size="14" text-anchor="start" fill="#111" textLength="48.9" lengthAdjust="spacing" >NSC EV</text>
<text transform="translate(-0.0 637.9) scale(0.93 1)" font-size="20" font-weight="bold" fill="#000">h</text>
<text x="96.9" y="652.3" font-size="14" text-anchor="start" fill="#000" font-weight="bold" textLength="95.6" lengthAdjust="spacing" >Tail suspension</text>
<line x1="52.4" y1="666" x2="52.4" y2="795.6" stroke="#a4a4a4" stroke-width="0.9" />
<line x1="52.4" y1="795.6" x2="236" y2="795.6" stroke="#a4a4a4" stroke-width="0.9" />
<line x1="50.199999999999996" y1="667" x2="52.4" y2="667" stroke="#888" stroke-width="0.8" />
<text x="48.3" y="670.22" font-size="9" text-anchor="end" fill="#2a2a2a" textLength="12.2" lengthAdjust="spacing" >240</text>
<line x1="50.199999999999996" y1="681.3" x2="52.4" y2="681.3" stroke="#888" stroke-width="0.8" />
<text x="48.3" y="684.52" font-size="9" text-anchor="end" fill="#2a2a2a" textLength="12.2" lengthAdjust="spacing" >220</text>
<line x1="50.199999999999996" y1="695.6" x2="52.4" y2="695.6" stroke="#888" stroke-width="0.8" />
<text x="48.3" y="698.82" font-size="9" text-anchor="end" fill="#2a2a2a" textLength="12.2" lengthAdjust="spacing" >200</text>
<line x1="50.199999999999996" y1="709.9" x2="52.4" y2="709.9" stroke="#888" stroke-width="0.8" />
<text x="48.3" y="713.12" font-size="9" text-anchor="end" fill="#2a2a2a" textLength="12.2" lengthAdjust="spacing" >180</text>
<line x1="50.199999999999996" y1="724.2" x2="52.4" y2="724.2" stroke="#888" stroke-width="0.8" />
<text x="48.3" y="727.42" font-size="9" text-anchor="end" fill="#2a2a2a" textLength="12.2" lengthAdjust="spacing" >160</text>
<line x1="50.199999999999996" y1="738.5" x2="52.4" y2="738.5" stroke="#888" stroke-width="0.8" />
<text x="48.3" y="741.72" font-size="9" text-anchor="end" fill="#2a2a2a" textLength="12.2" lengthAdjust="spacing" >140</text>
<line x1="50.199999999999996" y1="752.8" x2="52.4" y2="752.8" stroke="#888" stroke-width="0.8" />
<text x="48.3" y="756.02" font-size="9" text-anchor="end" fill="#2a2a2a" textLength="12.2" lengthAdjust="spacing" >120</text>
<line x1="50.199999999999996" y1="767.1" x2="52.4" y2="767.1" stroke="#888" stroke-width="0.8" />
<text x="48.3" y="770.32" font-size="9" text-anchor="end" fill="#2a2a2a" textLength="12.2" lengthAdjust="spacing" >100</text>
<line x1="50.199999999999996" y1="781.4" x2="52.4" y2="781.4" stroke="#888" stroke-width="0.8" />
<text x="48.3" y="784.62" font-size="9" text-anchor="end" fill="#2a2a2a" textLength="8.4" lengthAdjust="spacing" >80</text>
<line x1="50.199999999999996" y1="795.6" x2="52.4" y2="795.6" stroke="#888" stroke-width="0.8" />
<text x="48.3" y="798.82" font-size="9" text-anchor="end" fill="#2a2a2a" textLength="8.4" lengthAdjust="spacing" >60</text>
<line x1="89" y1="795.6" x2="89" y2="798.1" stroke="#99c" stroke-width="0.8" />
<line x1="144.4" y1="795.6" x2="144.4" y2="798.1" stroke="#99c" stroke-width="0.8" />
<line x1="200.5" y1="795.6" x2="200.5" y2="798.1" stroke="#99c" stroke-width="0.8" />
<text x="32" y="760.8" font-size="14" text-anchor="start" fill="#111" textLength="59.6" lengthAdjust="spacing" transform="rotate(-90 32 760.8)" >Time (sec)</text>
<line x1="89" y1="751.3" x2="89" y2="782.5" stroke="#444" stroke-width="0.8" />
<line x1="85.3" y1="751.3" x2="92.7" y2="751.3" stroke="#444" stroke-width="0.8" />
<line x1="85.3" y1="782.5" x2="92.7" y2="782.5" stroke="#444" stroke-width="0.8" />
<rect x="72.9" y="757" width="32.9" height="16.8" fill="#f4f400" stroke="#666" stroke-width="0.6"/>
<line x1="73.9" y1="763.7" x2="104.8" y2="763.7" stroke="#aa3" stroke-width="0.7" stroke-dasharray="1 1"/>
<circle cx="89" cy="751.3" r="1.7" fill="#000"/>
<circle cx="89" cy="754.3" r="1.7" fill="#000"/>
<circle cx="89" cy="757.7" r="1.7" fill="#000"/>
<circle cx="89" cy="761.7" r="1.7" fill="#000"/>
<circle cx="89" cy="764.4" r="1.7" fill="#000"/>
<circle cx="89" cy="767.1" r="1.7" fill="#000"/>
<circle cx="89" cy="772.8" r="1.7" fill="#000"/>
<circle cx="89" cy="777.2" r="1.7" fill="#000"/>
<circle cx="89" cy="782.5" r="1.7" fill="#000"/>
<line x1="144.4" y1="682.8" x2="144.4" y2="733.2" stroke="#444" stroke-width="0.8" />
<line x1="140.70000000000002" y1="682.8" x2="148.1" y2="682.8" stroke="#444" stroke-width="0.8" />
<line x1="140.70000000000002" y1="733.2" x2="148.1" y2="733.2" stroke="#444" stroke-width="0.8" />
<rect x="127.6" y="689.5" width="33.6" height="38.6" fill="#0000f0" stroke="#666" stroke-width="0.6"/>
<line x1="128.6" y1="719.1" x2="160.2" y2="719.1" stroke="#a33" stroke-width="0.7" stroke-dasharray="1 1"/>
<circle cx="144.4" cy="682.8" r="1.7" fill="#000"/>
<circle cx="144.4" cy="688.2" r="1.7" fill="#000"/>
<circle cx="144.4" cy="691.5" r="1.7" fill="#000"/>
<circle cx="144.4" cy="716.7" r="1.7" fill="#000"/>
<circle cx="144.4" cy="720.1" r="1.7" fill="#000"/>
<circle cx="144.4" cy="725.1" r="1.7" fill="#000"/>
<circle cx="144.4" cy="728.1" r="1.7" fill="#000"/>
<circle cx="144.4" cy="733.2" r="1.7" fill="#000"/>
<line x1="200.5" y1="708.3" x2="200.5" y2="777.8" stroke="#444" stroke-width="0.8" />
<line x1="196.8" y1="708.3" x2="204.2" y2="708.3" stroke="#444" stroke-width="0.8" />
<line x1="196.8" y1="777.8" x2="204.2" y2="777.8" stroke="#444" stroke-width="0.8" />
<rect x="183" y="731.8" width="33.6" height="35.3" fill="#00ee00" stroke="#666" stroke-width="0.6"/>
<line x1="184" y1="759.4" x2="215.6" y2="759.4" stroke="#383" stroke-width="0.7" stroke-dasharray="1 1"/>
<circle cx="200.5" cy="704.3" r="1.7" fill="#000"/>
<circle cx="200.5" cy="716.7" r="1.7" fill="#000"/>
<circle cx="200.5" cy="730.1" r="1.7" fill="#000"/>
<circle cx="200.5" cy="735.2" r="1.7" fill="#000"/>
<circle cx="200.5" cy="748.6" r="1.7" fill="#000"/>
<circle cx="200.5" cy="758.7" r="1.7" fill="#000"/>
<circle cx="200.5" cy="762.7" r="1.7" fill="#000"/>
<circle cx="200.5" cy="766.1" r="1.7" fill="#000"/>
<circle cx="200.5" cy="774.5" r="1.7" fill="#000"/>
<circle cx="200.5" cy="779.5" r="1.7" fill="#000"/>
<path d="M144.4 672.2V668.6H199.8V672.2" fill="none" stroke="#1a1a1a" stroke-width="1.15"/>
<text x="171.6" y="666.62" font-size="13" text-anchor="middle" fill="#1a1a1a" textLength="20.8" lengthAdjust="spacing" stroke="#1a1a1a" stroke-width="0.25">###</text>
<text x="144.4" y="687.42" font-size="17.5" text-anchor="middle" fill="#1a1a1a" textLength="20.2" lengthAdjust="spacing" >***</text>
<text x="69.9" y="808.0" font-size="14" text-anchor="start" fill="#111" textLength="34.1" lengthAdjust="spacing" >Sham</text>
<text x="122.0" y="808.0" font-size="14" text-anchor="start" fill="#111" textLength="40.8" lengthAdjust="spacing" >Control</text>
<text x="173.0" y="808.0" font-size="14" text-anchor="start" fill="#111" textLength="48.2" lengthAdjust="spacing" >NSC EV</text>
<text transform="translate(251.0 637.7) scale(0.93 1)" font-size="20" font-weight="bold" fill="#000">i</text>
<text x="343.7" y="651.6" font-size="14" text-anchor="start" fill="#000" font-weight="bold" textLength="36.9" lengthAdjust="spacing" >NO-DI</text>
<line x1="275.4" y1="668" x2="275.4" y2="795.6" stroke="#a4a4a4" stroke-width="0.9" />
<line x1="275.4" y1="795.6" x2="458" y2="795.6" stroke="#a4a4a4" stroke-width="0.9" />
<line x1="273.2" y1="669.4" x2="275.4" y2="669.4" stroke="#888" stroke-width="0.8" />
<text x="272.0" y="673.48" font-size="10" text-anchor="end" fill="#2a2a2a" textLength="11.3" lengthAdjust="spacing" >0.8</text>
<line x1="273.2" y1="690.4" x2="275.4" y2="690.4" stroke="#888" stroke-width="0.8" />
<text x="272.0" y="694.48" font-size="10" text-anchor="end" fill="#2a2a2a" textLength="11.3" lengthAdjust="spacing" >0.6</text>
<line x1="273.2" y1="711.5" x2="275.4" y2="711.5" stroke="#888" stroke-width="0.8" />
<text x="272.0" y="715.58" font-size="10" text-anchor="end" fill="#2a2a2a" textLength="11.3" lengthAdjust="spacing" >0.4</text>
<line x1="273.2" y1="732.5" x2="275.4" y2="732.5" stroke="#888" stroke-width="0.8" />
<text x="272.0" y="736.58" font-size="10" text-anchor="end" fill="#2a2a2a" textLength="11.3" lengthAdjust="spacing" >0.2</text>
<line x1="273.2" y1="753.6" x2="275.4" y2="753.6" stroke="#888" stroke-width="0.8" />
<text x="272.0" y="757.68" font-size="10" text-anchor="end" fill="#2a2a2a" textLength="11.3" lengthAdjust="spacing" >0.0</text>
<line x1="273.2" y1="774.6" x2="275.4" y2="774.6" stroke="#888" stroke-width="0.8" />
<text x="272.0" y="778.68" font-size="10" text-anchor="end" fill="#2a2a2a" textLength="14" lengthAdjust="spacing" >-0.2</text>
<line x1="273.2" y1="795.6" x2="275.4" y2="795.6" stroke="#888" stroke-width="0.8" />
<text x="272.0" y="799.68" font-size="10" text-anchor="end" fill="#2a2a2a" textLength="14" lengthAdjust="spacing" >-0.4</text>
<line x1="311.6" y1="795.6" x2="311.6" y2="798.1" stroke="#99c" stroke-width="0.8" />
<line x1="366.4" y1="795.6" x2="366.4" y2="798.1" stroke="#99c" stroke-width="0.8" />
<line x1="421.4" y1="795.6" x2="421.4" y2="798.1" stroke="#99c" stroke-width="0.8" />
<text x="257" y="780.5" font-size="14" text-anchor="start" fill="#111" textLength="113.5" lengthAdjust="spacing" transform="rotate(-90 257 780.5)" >Discrimination Index</text>
<line x1="311.6" y1="688.2" x2="311.6" y2="727.5" stroke="#444" stroke-width="0.8" />
<line x1="307.90000000000003" y1="688.2" x2="315.3" y2="688.2" stroke="#444" stroke-width="0.8" />
<line x1="307.90000000000003" y1="727.5" x2="315.3" y2="727.5" stroke="#444" stroke-width="0.8" />
<rect x="294.8" y="694.2" width="33.3" height="16.5" fill="#f4f400" stroke="#666" stroke-width="0.6"/>
<line x1="295.8" y1="699.6" x2="327.1" y2="699.6" stroke="#aa3" stroke-width="0.7" stroke-dasharray="1 1"/>
<circle cx="311.6" cy="688.2" r="1.7" fill="#000"/>
<circle cx="311.6" cy="690.5" r="1.7" fill="#000"/>
<circle cx="311.6" cy="696.6" r="1.7" fill="#000"/>
<circle cx="311.6" cy="698.9" r="1.7" fill="#000"/>
<circle cx="311.6" cy="701.3" r="1.7" fill="#000"/>
<circle cx="311.6" cy="708" r="1.7" fill="#000"/>
<circle cx="311.6" cy="710.7" r="1.7" fill="#000"/>
<circle cx="311.6" cy="713.4" r="1.7" fill="#000"/>
<circle cx="311.6" cy="727.5" r="1.7" fill="#000"/>
<line x1="366.4" y1="734.2" x2="366.4" y2="781.5" stroke="#444" stroke-width="0.8" />
<line x1="362.7" y1="734.2" x2="370.09999999999997" y2="734.2" stroke="#444" stroke-width="0.8" />
<line x1="362.7" y1="781.5" x2="370.09999999999997" y2="781.5" stroke="#444" stroke-width="0.8" />
<rect x="350.3" y="738.2" width="33.2" height="29.9" fill="#0000f0" stroke="#666" stroke-width="0.6"/>
<line x1="351.3" y1="751.3" x2="382.5" y2="751.3" stroke="#a33" stroke-width="0.7" stroke-dasharray="1 1"/>
<circle cx="366.4" cy="734.2" r="1.7" fill="#000"/>
<circle cx="366.4" cy="737.2" r="1.7" fill="#000"/>
<circle cx="366.4" cy="740.9" r="1.7" fill="#000"/>
<circle cx="366.4" cy="761" r="1.7" fill="#000"/>
<circle cx="366.4" cy="764.4" r="1.7" fill="#000"/>
<circle cx="366.4" cy="770.1" r="1.7" fill="#000"/>
<circle cx="366.4" cy="781.5" r="1.7" fill="#000"/>
<line x1="421.4" y1="710.7" x2="421.4" y2="751.3" stroke="#444" stroke-width="0.8" />
<line x1="417.7" y1="710.7" x2="425.09999999999997" y2="710.7" stroke="#444" stroke-width="0.8" />
<line x1="417.7" y1="751.3" x2="425.09999999999997" y2="751.3" stroke="#444" stroke-width="0.8" />
<rect x="405.3" y="716.4" width="33.3" height="15.4" fill="#00ee00" stroke="#666" stroke-width="0.6"/>
<line x1="406.3" y1="724.8" x2="437.6" y2="724.8" stroke="#383" stroke-width="0.7" stroke-dasharray="1 1"/>
<circle cx="421.4" cy="708.7" r="1.7" fill="#000"/>
<circle cx="421.4" cy="716.4" r="1.7" fill="#000"/>
<circle cx="421.4" cy="719.1" r="1.7" fill="#000"/>
<circle cx="421.4" cy="721.1" r="1.7" fill="#000"/>
<circle cx="421.4" cy="724.1" r="1.7" fill="#000"/>
<circle cx="421.4" cy="726.8" r="1.7" fill="#000"/>
<circle cx="421.4" cy="729.1" r="1.7" fill="#000"/>
<circle cx="421.4" cy="731.2" r="1.7" fill="#000"/>
<circle cx="421.4" cy="734.2" r="1.7" fill="#000"/>
<circle cx="421.4" cy="759.4" r="1.7" fill="#000"/>
<path d="M363.7 673.7V669.4H419.1V673.7" fill="none" stroke="#1a1a1a" stroke-width="1.15"/>
<text x="391.2" y="667.72" font-size="13" text-anchor="middle" fill="#1a1a1a" stroke="#1a1a1a" stroke-width="0.25">#</text>
<text x="364.1" y="689.23" font-size="17.5" text-anchor="middle" fill="#1a1a1a" >*</text>
<text x="421.4" y="694.42" font-size="17.5" text-anchor="middle" fill="#1a1a1a" >*</text>
<text x="289.9" y="808.6" font-size="14" text-anchor="start" fill="#111" textLength="35.8" lengthAdjust="spacing" >Sham</text>
<text x="341.3" y="808.6" font-size="14" text-anchor="start" fill="#111" textLength="42.1" lengthAdjust="spacing" >Control</text>
<text x="392.3" y="808.6" font-size="14" text-anchor="start" fill="#111" textLength="49.9" lengthAdjust="spacing" >NSC EV</text>
</svg>
</body></html>
